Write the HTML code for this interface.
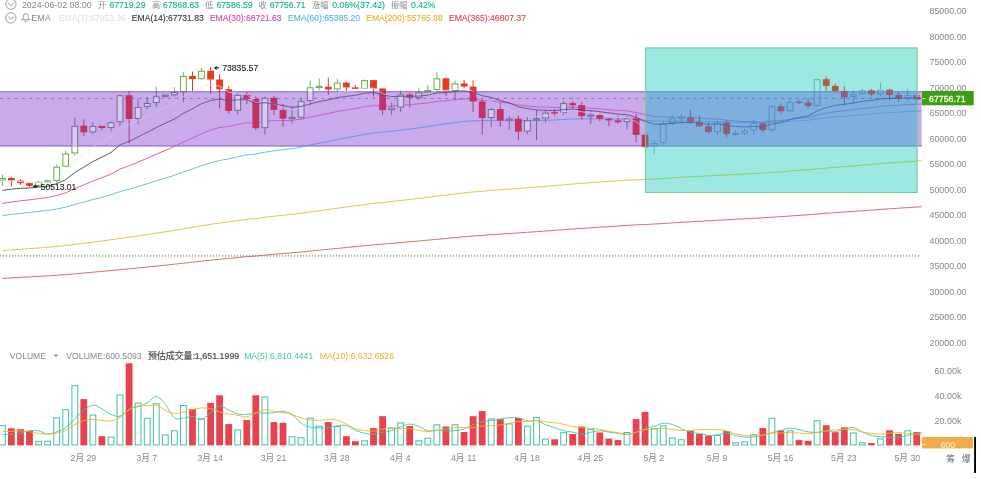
<!DOCTYPE html><html><head><meta charset="utf-8"><title>chart</title><style>html,body{margin:0;padding:0;background:#fff}svg{display:block;filter:blur(.3px)}</style></head><body>
<svg width="981" height="479" viewBox="0 0 981 479" font-family='"Liberation Sans","Noto Sans CJK SC",sans-serif'>
<rect width="981" height="479" fill="#fff"/>
<line x1="0" y1="255.9" x2="921" y2="255.9" stroke="#94b47c" stroke-width="1.6" stroke-dasharray="1.2 1.8"/>
<polyline points="2.4,203.5 11.4,202.0 20.5,200.8 29.5,199.8 38.6,198.7 47.6,197.5 56.7,195.5 65.7,192.8 74.8,188.5 83.8,184.9 92.9,181.1 101.9,177.6 111.0,174.1 120.0,169.0 129.1,165.8 138.1,162.0 147.2,158.2 156.3,154.2 165.3,150.4 174.4,146.6 183.4,142.1 192.5,138.0 201.5,133.7 210.6,130.2 219.6,127.5 228.7,126.5 237.7,124.4 246.8,122.8 255.8,123.1 264.9,121.5 273.9,120.7 283.0,120.6 292.0,120.4 301.1,119.2 310.2,117.1 319.2,115.2 328.3,113.5 337.3,111.5 346.4,109.9 355.4,108.6 364.5,106.7 373.5,105.6 382.6,105.9 391.6,106.0 400.7,105.2 409.7,104.7 418.8,103.9 427.8,103.0 436.9,101.4 445.9,100.8 455.0,99.7 464.1,98.8 473.1,99.0 482.2,100.2 491.2,100.8 500.3,102.1 509.3,103.1 518.4,105.0 527.4,106.0 536.5,106.8 545.5,107.2 554.6,107.5 563.6,107.2 572.7,107.1 581.7,107.7 590.8,108.2 599.8,108.9 608.9,109.6 618.0,110.4 627.0,110.9 636.1,112.5 645.1,114.7 654.2,116.5 663.2,117.0 672.3,117.0 681.3,117.1 690.4,117.4 699.4,118.0 708.5,118.9 717.5,119.1 726.6,120.1 735.6,121.0 744.7,121.6 753.7,121.7 762.8,122.2 771.9,121.2 780.9,120.5 790.0,119.3 799.0,118.3 808.1,117.5 817.1,115.0 826.2,113.1 835.2,111.7 844.3,110.8 853.3,109.7 862.4,108.4 871.4,107.5 880.5,106.4 889.5,105.6 898.6,105.2 907.7,104.5 916.7,104.2 921.5,104.0" fill="none" stroke="#e0409c" stroke-width="0.85" stroke-linejoin="round"/>
<polyline points="2.4,215.5 11.4,214.4 20.5,213.3 29.5,212.4 38.6,211.4 47.6,210.4 56.7,209.0 65.7,207.2 74.8,204.5 83.8,202.1 92.9,199.6 101.9,197.3 111.0,194.8 120.0,191.6 129.1,189.2 138.1,186.5 147.2,183.7 156.3,180.9 165.3,178.1 174.4,175.3 183.4,172.0 192.5,169.0 201.5,165.7 210.6,162.9 219.6,160.5 228.7,158.9 237.7,156.8 246.8,154.9 255.8,154.0 264.9,152.2 273.9,150.8 283.0,149.7 292.0,148.7 301.1,147.1 310.2,145.1 319.2,143.2 328.3,141.5 337.3,139.5 346.4,137.8 355.4,136.2 364.5,134.4 373.5,132.9 382.6,132.1 391.6,131.3 400.7,130.1 409.7,129.1 418.8,127.9 427.8,126.6 436.9,125.0 445.9,123.9 455.0,122.6 464.1,121.4 473.1,120.8 482.2,120.7 491.2,120.3 500.3,120.3 509.3,120.2 518.4,120.6 527.4,120.6 536.5,120.5 545.5,120.3 554.6,120.0 563.6,119.5 572.7,119.0 581.7,118.9 590.8,118.8 599.8,118.8 608.9,118.8 618.0,119.0 627.0,118.9 636.1,119.4 645.1,120.4 654.2,121.1 663.2,121.2 672.3,121.1 681.3,121.0 690.4,121.0 699.4,121.2 708.5,121.5 717.5,121.6 726.6,122.0 735.6,122.4 744.7,122.6 753.7,122.6 762.8,122.9 771.9,122.3 780.9,122.0 790.0,121.3 799.0,120.7 808.1,120.2 817.1,118.9 826.2,117.8 835.2,116.9 844.3,116.3 853.3,115.5 862.4,114.7 871.4,114.0 880.5,113.2 889.5,112.6 898.6,112.2 907.7,111.6 916.7,111.2 921.5,111.0" fill="none" stroke="#48b8dc" stroke-width="0.85" stroke-linejoin="round"/>
<polyline points="2.4,250.6 11.4,249.9 20.5,249.3 29.5,248.6 38.6,248.0 47.6,247.3 56.7,246.5 65.7,245.6 74.8,244.4 83.8,243.3 92.9,242.1 101.9,241.0 111.0,239.8 120.0,238.3 129.1,237.2 138.1,235.9 147.2,234.5 156.3,233.2 165.3,231.8 174.4,230.4 183.4,228.9 192.5,227.4 201.5,225.8 210.6,224.4 219.6,223.0 228.7,221.9 237.7,220.6 246.8,219.4 255.8,218.5 264.9,217.3 273.9,216.2 283.0,215.3 292.0,214.3 301.1,213.2 310.2,211.9 319.2,210.7 328.3,209.5 337.3,208.2 346.4,207.0 355.4,205.8 364.5,204.6 373.5,203.4 382.6,202.5 391.6,201.5 400.7,200.5 409.7,199.5 418.8,198.4 427.8,197.3 436.9,196.1 445.9,195.1 455.0,194.0 464.1,192.9 473.1,192.0 482.2,191.3 491.2,190.4 500.3,189.8 509.3,189.0 518.4,188.5 527.4,187.8 536.5,187.1 545.5,186.4 554.6,185.6 563.6,184.8 572.7,184.0 581.7,183.3 590.8,182.7 599.8,182.0 608.9,181.4 618.0,180.8 627.0,180.2 636.1,179.8 645.1,179.4 654.2,179.1 663.2,178.5 672.3,177.9 681.3,177.3 690.4,176.8 699.4,176.3 708.5,175.8 717.5,175.3 726.6,174.9 735.6,174.5 744.7,174.0 753.7,173.5 762.8,173.1 771.9,172.4 780.9,171.8 790.0,171.1 799.0,170.4 808.1,169.8 817.1,168.9 826.2,168.1 835.2,167.3 844.3,166.6 853.3,165.9 862.4,165.1 871.4,164.4 880.5,163.7 889.5,163.0 898.6,162.4 907.7,161.7 916.7,161.1 921.5,160.7" fill="none" stroke="#dcbc30" stroke-width="0.85" stroke-linejoin="round"/>
<polyline points="2.4,278.5 11.4,277.9 20.5,277.4 29.5,276.9 38.6,276.4 47.6,275.9 56.7,275.3 65.7,274.6 74.8,273.8 83.8,273.0 92.9,272.2 101.9,271.4 111.0,270.6 120.0,269.7 129.1,268.8 138.1,267.9 147.2,267.0 156.3,266.1 165.3,265.2 174.4,264.2 183.4,263.2 192.5,262.2 201.5,261.2 210.6,260.2 219.6,259.2 228.7,258.4 237.7,257.5 246.8,256.7 255.8,256.0 264.9,255.1 273.9,254.3 283.0,253.6 292.0,252.8 301.1,252.0 310.2,251.1 319.2,250.2 328.3,249.3 337.3,248.4 346.4,247.5 355.4,246.6 364.5,245.7 373.5,244.9 382.6,244.1 391.6,243.4 400.7,242.6 409.7,241.8 418.8,241.0 427.8,240.1 436.9,239.3 445.9,238.5 455.0,237.6 464.1,236.8 473.1,236.0 482.2,235.4 491.2,234.7 500.3,234.1 509.3,233.5 518.4,232.9 527.4,232.3 536.5,231.7 545.5,231.0 554.6,230.4 563.6,229.7 572.7,229.0 581.7,228.4 590.8,227.8 599.8,227.2 608.9,226.6 618.0,226.0 627.0,225.4 636.1,224.9 645.1,224.5 654.2,224.0 663.2,223.5 672.3,222.9 681.3,222.3 690.4,221.8 699.4,221.3 708.5,220.8 717.5,220.3 726.6,219.8 735.6,219.3 744.7,218.8 753.7,218.3 762.8,217.8 771.9,217.2 780.9,216.6 790.0,216.0 799.0,215.4 808.1,214.8 817.1,214.0 826.2,213.3 835.2,212.7 844.3,212.0 853.3,211.4 862.4,210.7 871.4,210.1 880.5,209.4 889.5,208.8 898.6,208.2 907.7,207.6 916.7,207.0 921.5,206.7" fill="none" stroke="#dc5058" stroke-width="0.85" stroke-linejoin="round"/>
<defs>
<clipPath id="cpP"><rect x="0" y="91" width="645" height="55.599999999999994"/><rect x="917.5" y="91" width="4.2999999999999545" height="55.599999999999994"/></clipPath>
<clipPath id="cpC"><rect x="645" y="47.5" width="272.5" height="43.5"/><rect x="645" y="146.6" width="272.5" height="46.400000000000006"/></clipPath>
<clipPath id="cpB"><rect x="645" y="91" width="272.5" height="55.599999999999994"/></clipPath>
<clipPath id="cpW"><path clip-rule="evenodd" d="M0 0H921.8V340H0ZM0 91H921.8V146.6H0ZM645 47.5H917.5V91H645ZM645 146.6H917.5V193H645Z"/></clipPath>
<clipPath id="cpAll"><rect x="0" y="0" width="921.8" height="340"/></clipPath>
</defs>
<g clip-path="url(#cpAll)">
<path d="M2.4 174.4V178.0M2.4 180.6V185.9" stroke="#62aa46" stroke-width=".9" fill="none"/>
<rect x="-0.5" y="178.5" width="5.8" height="1.6" fill="none" stroke="#62aa46" stroke-width="1"/>
<path d="M11.4 176.9V186.6" stroke="#e63c1e" stroke-width="1" fill="none"/>
<rect x="8.0" y="178.0" width="6.8" height="2.6" fill="#e63c1e"/>
<path d="M20.5 179.1V184.9" stroke="#e63c1e" stroke-width="1" fill="none"/>
<rect x="17.1" y="180.6" width="6.8" height="2.6" fill="#e63c1e"/>
<path d="M29.5 181.8V187.1" stroke="#e63c1e" stroke-width="1" fill="none"/>
<rect x="26.1" y="183.1" width="6.8" height="2.8" fill="#e63c1e"/>
<path d="M38.6 181.0V181.7M38.6 185.9V186.8" stroke="#62aa46" stroke-width=".9" fill="none"/>
<rect x="35.7" y="182.2" width="5.8" height="3.2" fill="none" stroke="#62aa46" stroke-width="1"/>
<path d="M47.6 179.7V180.2M47.6 182.4V183.2" stroke="#62aa46" stroke-width=".9" fill="none"/>
<rect x="44.7" y="180.7" width="5.8" height="1.2" fill="none" stroke="#62aa46" stroke-width="1"/>
<path d="M56.7 164.5V166.7M56.7 180.9V185.1" stroke="#62aa46" stroke-width=".9" fill="none"/>
<rect x="53.8" y="167.2" width="5.8" height="13.2" fill="none" stroke="#62aa46" stroke-width="1"/>
<path d="M65.7 150.7V153.5M65.7 166.7V166.8" stroke="#62aa46" stroke-width=".9" fill="none"/>
<rect x="62.8" y="154.0" width="5.8" height="12.2" fill="none" stroke="#62aa46" stroke-width="1"/>
<path d="M74.8 117.6V125.7M74.8 153.5V155.3" stroke="#62aa46" stroke-width=".9" fill="none"/>
<rect x="71.9" y="126.2" width="5.8" height="26.8" fill="none" stroke="#62aa46" stroke-width="1"/>
<path d="M83.8 119.3V136.3" stroke="#e63c1e" stroke-width="1" fill="none"/>
<rect x="80.4" y="125.7" width="6.8" height="6.7" fill="#e63c1e"/>
<path d="M92.9 122.2V125.9M92.9 132.4V134.2" stroke="#62aa46" stroke-width=".9" fill="none"/>
<rect x="90.0" y="126.4" width="5.8" height="5.5" fill="none" stroke="#62aa46" stroke-width="1"/>
<path d="M101.9 125.7V130.2" stroke="#e63c1e" stroke-width="1" fill="none"/>
<rect x="98.5" y="125.9" width="6.8" height="2.1" fill="#e63c1e"/>
<path d="M111.0 121.6V122.2M111.0 128.0V131.4" stroke="#62aa46" stroke-width=".9" fill="none"/>
<rect x="108.1" y="122.7" width="5.8" height="4.8" fill="none" stroke="#62aa46" stroke-width="1"/>
<path d="M120.0 94.4V95.2M120.0 122.2V126.4" stroke="#62aa46" stroke-width=".9" fill="none"/>
<rect x="117.1" y="95.7" width="5.8" height="26.0" fill="none" stroke="#62aa46" stroke-width="1"/>
<path d="M129.1 91.0V143.4" stroke="#e63c1e" stroke-width="1" fill="none"/>
<rect x="125.7" y="95.2" width="6.8" height="23.8" fill="#e63c1e"/>
<path d="M138.1 98.8V106.9M138.1 119.0V123.9" stroke="#62aa46" stroke-width=".9" fill="none"/>
<rect x="135.2" y="107.4" width="5.8" height="11.1" fill="none" stroke="#62aa46" stroke-width="1"/>
<path d="M147.2 97.1V103.0M147.2 106.9V109.6" stroke="#62aa46" stroke-width=".9" fill="none"/>
<rect x="144.3" y="103.5" width="5.8" height="2.9" fill="none" stroke="#62aa46" stroke-width="1"/>
<path d="M156.3 86.7V96.3M156.3 103.0V106.9" stroke="#62aa46" stroke-width=".9" fill="none"/>
<rect x="153.4" y="96.8" width="5.8" height="5.7" fill="none" stroke="#62aa46" stroke-width="1"/>
<path d="M165.3 94.2V94.7M165.3 96.9V97.7" stroke="#62aa46" stroke-width=".9" fill="none"/>
<rect x="162.4" y="95.2" width="5.8" height="1.2" fill="none" stroke="#62aa46" stroke-width="1"/>
<path d="M174.4 87.2V92.0M174.4 95.4V96.1" stroke="#62aa46" stroke-width=".9" fill="none"/>
<rect x="171.5" y="92.5" width="5.8" height="2.3" fill="none" stroke="#62aa46" stroke-width="1"/>
<path d="M183.4 72.2V75.9M183.4 92.0V102.0" stroke="#62aa46" stroke-width=".9" fill="none"/>
<rect x="180.5" y="76.4" width="5.8" height="15.1" fill="none" stroke="#62aa46" stroke-width="1"/>
<path d="M192.5 71.6V92.6" stroke="#e63c1e" stroke-width="1" fill="none"/>
<rect x="189.1" y="75.9" width="6.8" height="3.2" fill="#e63c1e"/>
<path d="M201.5 67.8V70.8M201.5 79.2V79.8" stroke="#62aa46" stroke-width=".9" fill="none"/>
<rect x="198.6" y="71.3" width="5.8" height="7.4" fill="none" stroke="#62aa46" stroke-width="1"/>
<path d="M210.6 66.9V94.1" stroke="#e63c1e" stroke-width="1" fill="none"/>
<rect x="207.2" y="70.8" width="6.8" height="8.7" fill="#e63c1e"/>
<path d="M219.6 74.3V108.5" stroke="#e63c1e" stroke-width="1" fill="none"/>
<rect x="216.2" y="79.5" width="6.8" height="9.7" fill="#e63c1e"/>
<path d="M228.7 86.4V113.6" stroke="#e63c1e" stroke-width="1" fill="none"/>
<rect x="225.3" y="89.2" width="6.8" height="21.7" fill="#e63c1e"/>
<path d="M237.7 92.3V94.9M237.7 110.9V114.8" stroke="#62aa46" stroke-width=".9" fill="none"/>
<rect x="234.8" y="95.4" width="5.8" height="14.9" fill="none" stroke="#62aa46" stroke-width="1"/>
<path d="M246.8 92.2V104.2" stroke="#e63c1e" stroke-width="1" fill="none"/>
<rect x="243.4" y="94.9" width="6.8" height="4.0" fill="#e63c1e"/>
<path d="M255.8 96.5V130.2" stroke="#e63c1e" stroke-width="1" fill="none"/>
<rect x="252.4" y="99.0" width="6.8" height="29.2" fill="#e63c1e"/>
<path d="M264.9 96.5V97.8M264.9 128.2V134.2" stroke="#62aa46" stroke-width=".9" fill="none"/>
<rect x="262.0" y="98.3" width="5.8" height="29.4" fill="none" stroke="#62aa46" stroke-width="1"/>
<path d="M273.9 95.7V114.9" stroke="#e63c1e" stroke-width="1" fill="none"/>
<rect x="270.5" y="97.8" width="6.8" height="12.1" fill="#e63c1e"/>
<path d="M283.0 103.9V126.6" stroke="#e63c1e" stroke-width="1" fill="none"/>
<rect x="279.6" y="109.9" width="6.8" height="8.8" fill="#e63c1e"/>
<path d="M292.0 107.3V117.0M292.0 119.2V123.2" stroke="#62aa46" stroke-width=".9" fill="none"/>
<rect x="289.1" y="117.5" width="5.8" height="1.2" fill="none" stroke="#62aa46" stroke-width="1"/>
<path d="M301.1 98.9V101.1M301.1 117.6V118.8" stroke="#62aa46" stroke-width=".9" fill="none"/>
<rect x="298.2" y="101.6" width="5.8" height="15.6" fill="none" stroke="#62aa46" stroke-width="1"/>
<path d="M310.2 80.7V87.3M310.2 101.1V105.3" stroke="#62aa46" stroke-width=".9" fill="none"/>
<rect x="307.3" y="87.8" width="5.8" height="12.8" fill="none" stroke="#62aa46" stroke-width="1"/>
<path d="M319.2 78.6V85.9M319.2 88.1V90.4" stroke="#62aa46" stroke-width=".9" fill="none"/>
<rect x="316.3" y="86.4" width="5.8" height="1.2" fill="none" stroke="#62aa46" stroke-width="1"/>
<path d="M328.3 77.5V95.1" stroke="#e63c1e" stroke-width="1" fill="none"/>
<rect x="324.9" y="86.7" width="6.8" height="2.7" fill="#e63c1e"/>
<path d="M337.3 78.7V82.6M337.3 89.4V92.3" stroke="#62aa46" stroke-width=".9" fill="none"/>
<rect x="334.4" y="83.1" width="5.8" height="5.8" fill="none" stroke="#62aa46" stroke-width="1"/>
<path d="M346.4 81.9V91.8" stroke="#e63c1e" stroke-width="1" fill="none"/>
<rect x="343.0" y="82.6" width="6.8" height="4.8" fill="#e63c1e"/>
<path d="M355.4 85.0V89.0" stroke="#e63c1e" stroke-width="1" fill="none"/>
<rect x="352.0" y="87.4" width="6.8" height="1.4" fill="#e63c1e"/>
<path d="M364.5 79.6V80.1M364.5 88.8V88.9" stroke="#62aa46" stroke-width=".9" fill="none"/>
<rect x="361.6" y="80.6" width="5.8" height="7.8" fill="none" stroke="#62aa46" stroke-width="1"/>
<path d="M373.5 80.0V96.7" stroke="#e63c1e" stroke-width="1" fill="none"/>
<rect x="370.1" y="80.1" width="6.8" height="8.4" fill="#e63c1e"/>
<path d="M382.6 88.3V114.8" stroke="#e63c1e" stroke-width="1" fill="none"/>
<rect x="379.2" y="88.5" width="6.8" height="21.6" fill="#e63c1e"/>
<path d="M391.6 102.6V107.5M391.6 110.1V115.1" stroke="#62aa46" stroke-width=".9" fill="none"/>
<rect x="388.7" y="108.0" width="5.8" height="1.6" fill="none" stroke="#62aa46" stroke-width="1"/>
<path d="M400.7 90.2V94.5M400.7 107.5V112.1" stroke="#62aa46" stroke-width=".9" fill="none"/>
<rect x="397.8" y="95.0" width="5.8" height="12.0" fill="none" stroke="#62aa46" stroke-width="1"/>
<path d="M409.7 93.1V107.5" stroke="#e63c1e" stroke-width="1" fill="none"/>
<rect x="406.3" y="94.5" width="6.8" height="3.4" fill="#e63c1e"/>
<path d="M418.8 88.2V92.4M418.8 97.9V99.8" stroke="#62aa46" stroke-width=".9" fill="none"/>
<rect x="415.9" y="92.9" width="5.8" height="4.5" fill="none" stroke="#62aa46" stroke-width="1"/>
<path d="M427.8 85.0V90.0M427.8 92.4V92.7" stroke="#62aa46" stroke-width=".9" fill="none"/>
<rect x="424.9" y="90.5" width="5.8" height="1.4" fill="none" stroke="#62aa46" stroke-width="1"/>
<path d="M436.9 72.2V78.3M436.9 90.0V91.6" stroke="#62aa46" stroke-width=".9" fill="none"/>
<rect x="434.0" y="78.8" width="5.8" height="10.7" fill="none" stroke="#62aa46" stroke-width="1"/>
<path d="M445.9 77.6V95.9" stroke="#e63c1e" stroke-width="1" fill="none"/>
<rect x="442.5" y="78.3" width="6.8" height="12.8" fill="#e63c1e"/>
<path d="M455.0 80.6V83.4M455.0 91.1V99.5" stroke="#62aa46" stroke-width=".9" fill="none"/>
<rect x="452.1" y="83.9" width="5.8" height="6.7" fill="none" stroke="#62aa46" stroke-width="1"/>
<path d="M464.1 79.9V88.9" stroke="#e63c1e" stroke-width="1" fill="none"/>
<rect x="460.7" y="83.4" width="6.8" height="3.2" fill="#e63c1e"/>
<path d="M473.1 80.3V112.0" stroke="#e63c1e" stroke-width="1" fill="none"/>
<rect x="469.7" y="86.6" width="6.8" height="14.9" fill="#e63c1e"/>
<path d="M482.2 97.3V134.8" stroke="#e63c1e" stroke-width="1" fill="none"/>
<rect x="478.8" y="101.5" width="6.8" height="16.5" fill="#e63c1e"/>
<path d="M491.2 108.1V109.0M491.2 118.0V127.2" stroke="#62aa46" stroke-width=".9" fill="none"/>
<rect x="488.3" y="109.5" width="5.8" height="8.0" fill="none" stroke="#62aa46" stroke-width="1"/>
<path d="M500.3 102.8V126.5" stroke="#e63c1e" stroke-width="1" fill="none"/>
<rect x="496.9" y="109.0" width="6.8" height="11.6" fill="#e63c1e"/>
<path d="M509.3 115.7V118.5M509.3 120.7V130.0" stroke="#62aa46" stroke-width=".9" fill="none"/>
<rect x="506.4" y="119.0" width="5.8" height="1.2" fill="none" stroke="#62aa46" stroke-width="1"/>
<path d="M518.4 115.0V139.9" stroke="#e63c1e" stroke-width="1" fill="none"/>
<rect x="515.0" y="118.7" width="6.8" height="13.0" fill="#e63c1e"/>
<path d="M527.4 117.0V120.3M527.4 131.6V134.1" stroke="#62aa46" stroke-width=".9" fill="none"/>
<rect x="524.5" y="120.8" width="5.8" height="10.3" fill="none" stroke="#62aa46" stroke-width="1"/>
<path d="M536.5 110.1V118.3M536.5 120.5V140.3" stroke="#62aa46" stroke-width=".9" fill="none"/>
<rect x="533.6" y="118.8" width="5.8" height="1.2" fill="none" stroke="#62aa46" stroke-width="1"/>
<path d="M545.5 110.3V112.7M545.5 118.5V122.3" stroke="#62aa46" stroke-width=".9" fill="none"/>
<rect x="542.6" y="113.2" width="5.8" height="4.8" fill="none" stroke="#62aa46" stroke-width="1"/>
<path d="M554.6 108.9V116.4" stroke="#e63c1e" stroke-width="1" fill="none"/>
<rect x="551.2" y="112.2" width="6.8" height="1.4" fill="#e63c1e"/>
<path d="M563.6 100.9V103.1M563.6 113.0V115.0" stroke="#62aa46" stroke-width=".9" fill="none"/>
<rect x="560.7" y="103.6" width="5.8" height="8.9" fill="none" stroke="#62aa46" stroke-width="1"/>
<path d="M572.7 101.2V108.5" stroke="#e63c1e" stroke-width="1" fill="none"/>
<rect x="569.3" y="103.1" width="6.8" height="2.1" fill="#e63c1e"/>
<path d="M581.7 101.8V119.6" stroke="#e63c1e" stroke-width="1" fill="none"/>
<rect x="578.3" y="105.1" width="6.8" height="11.0" fill="#e63c1e"/>
<path d="M590.8 110.9V114.5M590.8 116.7V123.8" stroke="#62aa46" stroke-width=".9" fill="none"/>
<rect x="587.9" y="115.0" width="5.8" height="1.2" fill="none" stroke="#62aa46" stroke-width="1"/>
<path d="M599.8 113.4V121.2" stroke="#e63c1e" stroke-width="1" fill="none"/>
<rect x="596.4" y="115.0" width="6.8" height="3.8" fill="#e63c1e"/>
<path d="M608.9 118.0V125.9" stroke="#e63c1e" stroke-width="1" fill="none"/>
<rect x="605.5" y="118.8" width="6.8" height="1.6" fill="#e63c1e"/>
<path d="M618.0 115.7V123.9" stroke="#e63c1e" stroke-width="1" fill="none"/>
<rect x="614.6" y="120.4" width="6.8" height="1.8" fill="#e63c1e"/>
<path d="M627.0 116.4V118.3M627.0 122.1V129.1" stroke="#62aa46" stroke-width=".9" fill="none"/>
<rect x="624.1" y="118.8" width="5.8" height="2.9" fill="none" stroke="#62aa46" stroke-width="1"/>
<path d="M636.1 113.8V142.4" stroke="#e63c1e" stroke-width="1" fill="none"/>
<rect x="632.7" y="118.3" width="6.8" height="16.5" fill="#e63c1e"/>
<path d="M645.1 133.9V147.2" stroke="#e63c1e" stroke-width="1" fill="none"/>
<rect x="641.7" y="134.8" width="6.8" height="12.5" fill="#e63c1e"/>
<path d="M654.2 140.3V143.1M654.2 146.7V154.1" stroke="#62aa46" stroke-width=".9" fill="none"/>
<rect x="651.3" y="143.6" width="5.8" height="2.6" fill="none" stroke="#62aa46" stroke-width="1"/>
<path d="M663.2 121.0V123.4M663.2 143.1V144.4" stroke="#62aa46" stroke-width=".9" fill="none"/>
<rect x="660.3" y="123.9" width="5.8" height="18.7" fill="none" stroke="#62aa46" stroke-width="1"/>
<path d="M672.3 114.8V118.2M672.3 123.4V125.1" stroke="#62aa46" stroke-width=".9" fill="none"/>
<rect x="669.4" y="118.7" width="5.8" height="4.2" fill="none" stroke="#62aa46" stroke-width="1"/>
<path d="M681.3 114.3V116.7M681.3 118.9V123.7" stroke="#62aa46" stroke-width=".9" fill="none"/>
<rect x="678.4" y="117.2" width="5.8" height="1.2" fill="none" stroke="#62aa46" stroke-width="1"/>
<path d="M690.4 109.9V124.3" stroke="#e63c1e" stroke-width="1" fill="none"/>
<rect x="687.0" y="117.5" width="6.8" height="4.4" fill="#e63c1e"/>
<path d="M699.4 115.4V126.6" stroke="#e63c1e" stroke-width="1" fill="none"/>
<rect x="696.0" y="121.9" width="6.8" height="4.4" fill="#e63c1e"/>
<path d="M708.5 122.6V133.6" stroke="#e63c1e" stroke-width="1" fill="none"/>
<rect x="705.1" y="126.3" width="6.8" height="5.8" fill="#e63c1e"/>
<path d="M717.5 120.5V122.4M717.5 132.1V135.0" stroke="#62aa46" stroke-width=".9" fill="none"/>
<rect x="714.6" y="122.9" width="5.8" height="8.7" fill="none" stroke="#62aa46" stroke-width="1"/>
<path d="M726.6 120.3V137.3" stroke="#e63c1e" stroke-width="1" fill="none"/>
<rect x="723.2" y="122.4" width="6.8" height="11.7" fill="#e63c1e"/>
<path d="M735.6 130.4V132.9M735.6 135.1V135.7" stroke="#62aa46" stroke-width=".9" fill="none"/>
<rect x="732.7" y="133.4" width="5.8" height="1.2" fill="none" stroke="#62aa46" stroke-width="1"/>
<path d="M744.7 128.5V130.6M744.7 134.0V135.1" stroke="#62aa46" stroke-width=".9" fill="none"/>
<rect x="741.8" y="131.1" width="5.8" height="2.4" fill="none" stroke="#62aa46" stroke-width="1"/>
<path d="M753.7 120.4V123.1M753.7 130.6V134.4" stroke="#62aa46" stroke-width=".9" fill="none"/>
<rect x="750.8" y="123.6" width="5.8" height="6.5" fill="none" stroke="#62aa46" stroke-width="1"/>
<path d="M762.8 122.1V132.3" stroke="#e63c1e" stroke-width="1" fill="none"/>
<rect x="759.4" y="123.1" width="6.8" height="7.0" fill="#e63c1e"/>
<path d="M771.9 105.0V106.2M771.9 130.1V131.4" stroke="#62aa46" stroke-width=".9" fill="none"/>
<rect x="769.0" y="106.7" width="5.8" height="22.9" fill="none" stroke="#62aa46" stroke-width="1"/>
<path d="M780.9 103.4V114.5" stroke="#e63c1e" stroke-width="1" fill="none"/>
<rect x="777.5" y="106.2" width="6.8" height="5.0" fill="#e63c1e"/>
<path d="M790.0 99.8V102.0M790.0 111.2V111.9" stroke="#62aa46" stroke-width=".9" fill="none"/>
<rect x="787.1" y="102.5" width="5.8" height="8.2" fill="none" stroke="#62aa46" stroke-width="1"/>
<path d="M799.0 100.1V104.2" stroke="#e63c1e" stroke-width="1" fill="none"/>
<rect x="795.6" y="101.6" width="6.8" height="1.4" fill="#e63c1e"/>
<path d="M808.1 98.5V108.0" stroke="#e63c1e" stroke-width="1" fill="none"/>
<rect x="804.7" y="102.6" width="6.8" height="3.3" fill="#e63c1e"/>
<path d="M817.1 78.8V79.2M817.1 105.9V107.0" stroke="#62aa46" stroke-width=".9" fill="none"/>
<rect x="814.2" y="79.7" width="5.8" height="25.7" fill="none" stroke="#62aa46" stroke-width="1"/>
<path d="M826.2 76.5V91.0" stroke="#e63c1e" stroke-width="1" fill="none"/>
<rect x="822.8" y="79.2" width="6.8" height="6.7" fill="#e63c1e"/>
<path d="M835.2 83.2V92.6" stroke="#e63c1e" stroke-width="1" fill="none"/>
<rect x="831.8" y="85.9" width="6.8" height="5.1" fill="#e63c1e"/>
<path d="M844.3 86.2V105.7" stroke="#e63c1e" stroke-width="1" fill="none"/>
<rect x="840.9" y="91.0" width="6.8" height="6.2" fill="#e63c1e"/>
<path d="M853.3 90.5V94.1M853.3 97.1V104.2" stroke="#62aa46" stroke-width=".9" fill="none"/>
<rect x="850.4" y="94.6" width="5.8" height="2.0" fill="none" stroke="#62aa46" stroke-width="1"/>
<path d="M862.4 88.7V90.3M862.4 94.1V94.4" stroke="#62aa46" stroke-width=".9" fill="none"/>
<rect x="859.5" y="90.8" width="5.8" height="2.8" fill="none" stroke="#62aa46" stroke-width="1"/>
<path d="M871.4 88.9V96.3" stroke="#e63c1e" stroke-width="1" fill="none"/>
<rect x="868.0" y="90.3" width="6.8" height="4.0" fill="#e63c1e"/>
<path d="M880.5 83.1V89.6M880.5 94.4V95.7" stroke="#62aa46" stroke-width=".9" fill="none"/>
<rect x="877.6" y="90.1" width="5.8" height="3.8" fill="none" stroke="#62aa46" stroke-width="1"/>
<path d="M889.5 88.8V100.7" stroke="#e63c1e" stroke-width="1" fill="none"/>
<rect x="886.1" y="89.6" width="6.8" height="5.4" fill="#e63c1e"/>
<path d="M898.6 92.2V101.5" stroke="#e63c1e" stroke-width="1" fill="none"/>
<rect x="895.2" y="94.9" width="6.8" height="3.8" fill="#e63c1e"/>
<path d="M907.7 89.2V95.2M907.7 98.8V101.5" stroke="#62aa46" stroke-width=".9" fill="none"/>
<rect x="904.8" y="95.7" width="5.8" height="2.6" fill="none" stroke="#62aa46" stroke-width="1"/>
<path d="M916.7 91.7V103.8" stroke="#e63c1e" stroke-width="1" fill="none"/>
<rect x="913.3" y="95.2" width="6.8" height="4.2" fill="#e63c1e"/>
<rect x="-2" y="91" width="923.8" height="55.599999999999994" fill="#c9abec"/>
<rect x="645" y="47.5" width="272.5" height="145.5" fill="#9ee8e2"/>
<rect x="645" y="91" width="272.5" height="55.599999999999994" fill="#7eb0dd"/>
</g>
<path d="M0 91.75H645M917.5 91.75H921.8" stroke="#a286d2" stroke-width="1.5" fill="none"/>
<path d="M645 91.75H917.5" stroke="#6f9fd0" stroke-width="1.5" fill="none"/>
<path d="M0 145.85H645M917.5 145.85H921.8" stroke="#a286d2" stroke-width="1.5" fill="none"/>
<path d="M645 145.85H917.5" stroke="#6f9fd0" stroke-width="1.5" fill="none"/>
<g clip-path="url(#cpP)">
<polyline points="2.4,203.5 11.4,202.0 20.5,200.8 29.5,199.8 38.6,198.7 47.6,197.5 56.7,195.5 65.7,192.8 74.8,188.5 83.8,184.9 92.9,181.1 101.9,177.6 111.0,174.1 120.0,169.0 129.1,165.8 138.1,162.0 147.2,158.2 156.3,154.2 165.3,150.4 174.4,146.6 183.4,142.1 192.5,138.0 201.5,133.7 210.6,130.2 219.6,127.5 228.7,126.5 237.7,124.4 246.8,122.8 255.8,123.1 264.9,121.5 273.9,120.7 283.0,120.6 292.0,120.4 301.1,119.2 310.2,117.1 319.2,115.2 328.3,113.5 337.3,111.5 346.4,109.9 355.4,108.6 364.5,106.7 373.5,105.6 382.6,105.9 391.6,106.0 400.7,105.2 409.7,104.7 418.8,103.9 427.8,103.0 436.9,101.4 445.9,100.8 455.0,99.7 464.1,98.8 473.1,99.0 482.2,100.2 491.2,100.8 500.3,102.1 509.3,103.1 518.4,105.0 527.4,106.0 536.5,106.8 545.5,107.2 554.6,107.5 563.6,107.2 572.7,107.1 581.7,107.7 590.8,108.2 599.8,108.9 608.9,109.6 618.0,110.4 627.0,110.9 636.1,112.5 645.1,114.7 654.2,116.5 663.2,117.0 672.3,117.0 681.3,117.1 690.4,117.4 699.4,118.0 708.5,118.9 717.5,119.1 726.6,120.1 735.6,121.0 744.7,121.6 753.7,121.7 762.8,122.2 771.9,121.2 780.9,120.5 790.0,119.3 799.0,118.3 808.1,117.5 817.1,115.0 826.2,113.1 835.2,111.7 844.3,110.8 853.3,109.7 862.4,108.4 871.4,107.5 880.5,106.4 889.5,105.6 898.6,105.2 907.7,104.5 916.7,104.2 921.5,104.0" fill="none" stroke="#c850c0" stroke-width="0.85" stroke-linejoin="round"/>
<polyline points="2.4,215.5 11.4,214.4 20.5,213.3 29.5,212.4 38.6,211.4 47.6,210.4 56.7,209.0 65.7,207.2 74.8,204.5 83.8,202.1 92.9,199.6 101.9,197.3 111.0,194.8 120.0,191.6 129.1,189.2 138.1,186.5 147.2,183.7 156.3,180.9 165.3,178.1 174.4,175.3 183.4,172.0 192.5,169.0 201.5,165.7 210.6,162.9 219.6,160.5 228.7,158.9 237.7,156.8 246.8,154.9 255.8,154.0 264.9,152.2 273.9,150.8 283.0,149.7 292.0,148.7 301.1,147.1 310.2,145.1 319.2,143.2 328.3,141.5 337.3,139.5 346.4,137.8 355.4,136.2 364.5,134.4 373.5,132.9 382.6,132.1 391.6,131.3 400.7,130.1 409.7,129.1 418.8,127.9 427.8,126.6 436.9,125.0 445.9,123.9 455.0,122.6 464.1,121.4 473.1,120.8 482.2,120.7 491.2,120.3 500.3,120.3 509.3,120.2 518.4,120.6 527.4,120.6 536.5,120.5 545.5,120.3 554.6,120.0 563.6,119.5 572.7,119.0 581.7,118.9 590.8,118.8 599.8,118.8 608.9,118.8 618.0,119.0 627.0,118.9 636.1,119.4 645.1,120.4 654.2,121.1 663.2,121.2 672.3,121.1 681.3,121.0 690.4,121.0 699.4,121.2 708.5,121.5 717.5,121.6 726.6,122.0 735.6,122.4 744.7,122.6 753.7,122.6 762.8,122.9 771.9,122.3 780.9,122.0 790.0,121.3 799.0,120.7 808.1,120.2 817.1,118.9 826.2,117.8 835.2,116.9 844.3,116.3 853.3,115.5 862.4,114.7 871.4,114.0 880.5,113.2 889.5,112.6 898.6,112.2 907.7,111.6 916.7,111.2 921.5,111.0" fill="none" stroke="#5a8ee0" stroke-width="0.85" stroke-linejoin="round"/>
<polyline points="2.4,250.6 11.4,249.9 20.5,249.3 29.5,248.6 38.6,248.0 47.6,247.3 56.7,246.5 65.7,245.6 74.8,244.4 83.8,243.3 92.9,242.1 101.9,241.0 111.0,239.8 120.0,238.3 129.1,237.2 138.1,235.9 147.2,234.5 156.3,233.2 165.3,231.8 174.4,230.4 183.4,228.9 192.5,227.4 201.5,225.8 210.6,224.4 219.6,223.0 228.7,221.9 237.7,220.6 246.8,219.4 255.8,218.5 264.9,217.3 273.9,216.2 283.0,215.3 292.0,214.3 301.1,213.2 310.2,211.9 319.2,210.7 328.3,209.5 337.3,208.2 346.4,207.0 355.4,205.8 364.5,204.6 373.5,203.4 382.6,202.5 391.6,201.5 400.7,200.5 409.7,199.5 418.8,198.4 427.8,197.3 436.9,196.1 445.9,195.1 455.0,194.0 464.1,192.9 473.1,192.0 482.2,191.3 491.2,190.4 500.3,189.8 509.3,189.0 518.4,188.5 527.4,187.8 536.5,187.1 545.5,186.4 554.6,185.6 563.6,184.8 572.7,184.0 581.7,183.3 590.8,182.7 599.8,182.0 608.9,181.4 618.0,180.8 627.0,180.2 636.1,179.8 645.1,179.4 654.2,179.1 663.2,178.5 672.3,177.9 681.3,177.3 690.4,176.8 699.4,176.3 708.5,175.8 717.5,175.3 726.6,174.9 735.6,174.5 744.7,174.0 753.7,173.5 762.8,173.1 771.9,172.4 780.9,171.8 790.0,171.1 799.0,170.4 808.1,169.8 817.1,168.9 826.2,168.1 835.2,167.3 844.3,166.6 853.3,165.9 862.4,165.1 871.4,164.4 880.5,163.7 889.5,163.0 898.6,162.4 907.7,161.7 916.7,161.1 921.5,160.7" fill="none" stroke="#c8b070" stroke-width="0.85" stroke-linejoin="round"/>
</g>
<g clip-path="url(#cpC)">
<polyline points="2.4,215.5 11.4,214.4 20.5,213.3 29.5,212.4 38.6,211.4 47.6,210.4 56.7,209.0 65.7,207.2 74.8,204.5 83.8,202.1 92.9,199.6 101.9,197.3 111.0,194.8 120.0,191.6 129.1,189.2 138.1,186.5 147.2,183.7 156.3,180.9 165.3,178.1 174.4,175.3 183.4,172.0 192.5,169.0 201.5,165.7 210.6,162.9 219.6,160.5 228.7,158.9 237.7,156.8 246.8,154.9 255.8,154.0 264.9,152.2 273.9,150.8 283.0,149.7 292.0,148.7 301.1,147.1 310.2,145.1 319.2,143.2 328.3,141.5 337.3,139.5 346.4,137.8 355.4,136.2 364.5,134.4 373.5,132.9 382.6,132.1 391.6,131.3 400.7,130.1 409.7,129.1 418.8,127.9 427.8,126.6 436.9,125.0 445.9,123.9 455.0,122.6 464.1,121.4 473.1,120.8 482.2,120.7 491.2,120.3 500.3,120.3 509.3,120.2 518.4,120.6 527.4,120.6 536.5,120.5 545.5,120.3 554.6,120.0 563.6,119.5 572.7,119.0 581.7,118.9 590.8,118.8 599.8,118.8 608.9,118.8 618.0,119.0 627.0,118.9 636.1,119.4 645.1,120.4 654.2,121.1 663.2,121.2 672.3,121.1 681.3,121.0 690.4,121.0 699.4,121.2 708.5,121.5 717.5,121.6 726.6,122.0 735.6,122.4 744.7,122.6 753.7,122.6 762.8,122.9 771.9,122.3 780.9,122.0 790.0,121.3 799.0,120.7 808.1,120.2 817.1,118.9 826.2,117.8 835.2,116.9 844.3,116.3 853.3,115.5 862.4,114.7 871.4,114.0 880.5,113.2 889.5,112.6 898.6,112.2 907.7,111.6 916.7,111.2 921.5,111.0" fill="none" stroke="#70c0d0" stroke-width="0.85" stroke-linejoin="round"/>
<polyline points="2.4,250.6 11.4,249.9 20.5,249.3 29.5,248.6 38.6,248.0 47.6,247.3 56.7,246.5 65.7,245.6 74.8,244.4 83.8,243.3 92.9,242.1 101.9,241.0 111.0,239.8 120.0,238.3 129.1,237.2 138.1,235.9 147.2,234.5 156.3,233.2 165.3,231.8 174.4,230.4 183.4,228.9 192.5,227.4 201.5,225.8 210.6,224.4 219.6,223.0 228.7,221.9 237.7,220.6 246.8,219.4 255.8,218.5 264.9,217.3 273.9,216.2 283.0,215.3 292.0,214.3 301.1,213.2 310.2,211.9 319.2,210.7 328.3,209.5 337.3,208.2 346.4,207.0 355.4,205.8 364.5,204.6 373.5,203.4 382.6,202.5 391.6,201.5 400.7,200.5 409.7,199.5 418.8,198.4 427.8,197.3 436.9,196.1 445.9,195.1 455.0,194.0 464.1,192.9 473.1,192.0 482.2,191.3 491.2,190.4 500.3,189.8 509.3,189.0 518.4,188.5 527.4,187.8 536.5,187.1 545.5,186.4 554.6,185.6 563.6,184.8 572.7,184.0 581.7,183.3 590.8,182.7 599.8,182.0 608.9,181.4 618.0,180.8 627.0,180.2 636.1,179.8 645.1,179.4 654.2,179.1 663.2,178.5 672.3,177.9 681.3,177.3 690.4,176.8 699.4,176.3 708.5,175.8 717.5,175.3 726.6,174.9 735.6,174.5 744.7,174.0 753.7,173.5 762.8,173.1 771.9,172.4 780.9,171.8 790.0,171.1 799.0,170.4 808.1,169.8 817.1,168.9 826.2,168.1 835.2,167.3 844.3,166.6 853.3,165.9 862.4,165.1 871.4,164.4 880.5,163.7 889.5,163.0 898.6,162.4 907.7,161.7 916.7,161.1 921.5,160.7" fill="none" stroke="#8cc850" stroke-width="0.85" stroke-linejoin="round"/>
</g>
<g clip-path="url(#cpB)">
<polyline points="2.4,203.5 11.4,202.0 20.5,200.8 29.5,199.8 38.6,198.7 47.6,197.5 56.7,195.5 65.7,192.8 74.8,188.5 83.8,184.9 92.9,181.1 101.9,177.6 111.0,174.1 120.0,169.0 129.1,165.8 138.1,162.0 147.2,158.2 156.3,154.2 165.3,150.4 174.4,146.6 183.4,142.1 192.5,138.0 201.5,133.7 210.6,130.2 219.6,127.5 228.7,126.5 237.7,124.4 246.8,122.8 255.8,123.1 264.9,121.5 273.9,120.7 283.0,120.6 292.0,120.4 301.1,119.2 310.2,117.1 319.2,115.2 328.3,113.5 337.3,111.5 346.4,109.9 355.4,108.6 364.5,106.7 373.5,105.6 382.6,105.9 391.6,106.0 400.7,105.2 409.7,104.7 418.8,103.9 427.8,103.0 436.9,101.4 445.9,100.8 455.0,99.7 464.1,98.8 473.1,99.0 482.2,100.2 491.2,100.8 500.3,102.1 509.3,103.1 518.4,105.0 527.4,106.0 536.5,106.8 545.5,107.2 554.6,107.5 563.6,107.2 572.7,107.1 581.7,107.7 590.8,108.2 599.8,108.9 608.9,109.6 618.0,110.4 627.0,110.9 636.1,112.5 645.1,114.7 654.2,116.5 663.2,117.0 672.3,117.0 681.3,117.1 690.4,117.4 699.4,118.0 708.5,118.9 717.5,119.1 726.6,120.1 735.6,121.0 744.7,121.6 753.7,121.7 762.8,122.2 771.9,121.2 780.9,120.5 790.0,119.3 799.0,118.3 808.1,117.5 817.1,115.0 826.2,113.1 835.2,111.7 844.3,110.8 853.3,109.7 862.4,108.4 871.4,107.5 880.5,106.4 889.5,105.6 898.6,105.2 907.7,104.5 916.7,104.2 921.5,104.0" fill="none" stroke="#6e7ccc" stroke-width="0.85" stroke-linejoin="round"/>
<polyline points="2.4,215.5 11.4,214.4 20.5,213.3 29.5,212.4 38.6,211.4 47.6,210.4 56.7,209.0 65.7,207.2 74.8,204.5 83.8,202.1 92.9,199.6 101.9,197.3 111.0,194.8 120.0,191.6 129.1,189.2 138.1,186.5 147.2,183.7 156.3,180.9 165.3,178.1 174.4,175.3 183.4,172.0 192.5,169.0 201.5,165.7 210.6,162.9 219.6,160.5 228.7,158.9 237.7,156.8 246.8,154.9 255.8,154.0 264.9,152.2 273.9,150.8 283.0,149.7 292.0,148.7 301.1,147.1 310.2,145.1 319.2,143.2 328.3,141.5 337.3,139.5 346.4,137.8 355.4,136.2 364.5,134.4 373.5,132.9 382.6,132.1 391.6,131.3 400.7,130.1 409.7,129.1 418.8,127.9 427.8,126.6 436.9,125.0 445.9,123.9 455.0,122.6 464.1,121.4 473.1,120.8 482.2,120.7 491.2,120.3 500.3,120.3 509.3,120.2 518.4,120.6 527.4,120.6 536.5,120.5 545.5,120.3 554.6,120.0 563.6,119.5 572.7,119.0 581.7,118.9 590.8,118.8 599.8,118.8 608.9,118.8 618.0,119.0 627.0,118.9 636.1,119.4 645.1,120.4 654.2,121.1 663.2,121.2 672.3,121.1 681.3,121.0 690.4,121.0 699.4,121.2 708.5,121.5 717.5,121.6 726.6,122.0 735.6,122.4 744.7,122.6 753.7,122.6 762.8,122.9 771.9,122.3 780.9,122.0 790.0,121.3 799.0,120.7 808.1,120.2 817.1,118.9 826.2,117.8 835.2,116.9 844.3,116.3 853.3,115.5 862.4,114.7 871.4,114.0 880.5,113.2 889.5,112.6 898.6,112.2 907.7,111.6 916.7,111.2 921.5,111.0" fill="none" stroke="#5a98d4" stroke-width="0.85" stroke-linejoin="round"/>
</g>
<line x1="0" y1="98.45" x2="921.8" y2="98.45" stroke="#5a5470" stroke-opacity=".55" stroke-width="1" stroke-dasharray="3 4.3"/>
<g clip-path="url(#cpP)"><path d="M2.4 174.4V178.0M2.4 180.6V185.9" stroke="#6a5e96" stroke-width=".9" fill="none"/>
<rect x="-0.5" y="178.5" width="5.8" height="1.6" fill="#d8c8f3" stroke="#746a98" stroke-width="1"/>
<path d="M11.4 176.9V186.6" stroke="#a8408c" stroke-width="1" fill="none"/>
<rect x="8.0" y="178.0" width="6.8" height="2.6" fill="#c43264"/>
<path d="M20.5 179.1V184.9" stroke="#a8408c" stroke-width="1" fill="none"/>
<rect x="17.1" y="180.6" width="6.8" height="2.6" fill="#c43264"/>
<path d="M29.5 181.8V187.1" stroke="#a8408c" stroke-width="1" fill="none"/>
<rect x="26.1" y="183.1" width="6.8" height="2.8" fill="#c43264"/>
<path d="M38.6 181.0V181.7M38.6 185.9V186.8" stroke="#6a5e96" stroke-width=".9" fill="none"/>
<rect x="35.7" y="182.2" width="5.8" height="3.2" fill="#d8c8f3" stroke="#746a98" stroke-width="1"/>
<path d="M47.6 179.7V180.2M47.6 182.4V183.2" stroke="#6a5e96" stroke-width=".9" fill="none"/>
<rect x="44.7" y="180.7" width="5.8" height="1.2" fill="#d8c8f3" stroke="#746a98" stroke-width="1"/>
<path d="M56.7 164.5V166.7M56.7 180.9V185.1" stroke="#6a5e96" stroke-width=".9" fill="none"/>
<rect x="53.8" y="167.2" width="5.8" height="13.2" fill="#d8c8f3" stroke="#746a98" stroke-width="1"/>
<path d="M65.7 150.7V153.5M65.7 166.7V166.8" stroke="#6a5e96" stroke-width=".9" fill="none"/>
<rect x="62.8" y="154.0" width="5.8" height="12.2" fill="#d8c8f3" stroke="#746a98" stroke-width="1"/>
<path d="M74.8 117.6V125.7M74.8 153.5V155.3" stroke="#6a5e96" stroke-width=".9" fill="none"/>
<rect x="71.9" y="126.2" width="5.8" height="26.8" fill="#d8c8f3" stroke="#746a98" stroke-width="1"/>
<path d="M83.8 119.3V136.3" stroke="#a8408c" stroke-width="1" fill="none"/>
<rect x="80.4" y="125.7" width="6.8" height="6.7" fill="#c43264"/>
<path d="M92.9 122.2V125.9M92.9 132.4V134.2" stroke="#6a5e96" stroke-width=".9" fill="none"/>
<rect x="90.0" y="126.4" width="5.8" height="5.5" fill="#d8c8f3" stroke="#746a98" stroke-width="1"/>
<path d="M101.9 125.7V130.2" stroke="#a8408c" stroke-width="1" fill="none"/>
<rect x="98.5" y="125.9" width="6.8" height="2.1" fill="#c43264"/>
<path d="M111.0 121.6V122.2M111.0 128.0V131.4" stroke="#6a5e96" stroke-width=".9" fill="none"/>
<rect x="108.1" y="122.7" width="5.8" height="4.8" fill="#d8c8f3" stroke="#746a98" stroke-width="1"/>
<path d="M120.0 94.4V95.2M120.0 122.2V126.4" stroke="#6a5e96" stroke-width=".9" fill="none"/>
<rect x="117.1" y="95.7" width="5.8" height="26.0" fill="#d8c8f3" stroke="#746a98" stroke-width="1"/>
<path d="M129.1 91.0V143.4" stroke="#a8408c" stroke-width="1" fill="none"/>
<rect x="125.7" y="95.2" width="6.8" height="23.8" fill="#c43264"/>
<path d="M138.1 98.8V106.9M138.1 119.0V123.9" stroke="#6a5e96" stroke-width=".9" fill="none"/>
<rect x="135.2" y="107.4" width="5.8" height="11.1" fill="#d8c8f3" stroke="#746a98" stroke-width="1"/>
<path d="M147.2 97.1V103.0M147.2 106.9V109.6" stroke="#6a5e96" stroke-width=".9" fill="none"/>
<rect x="144.3" y="103.5" width="5.8" height="2.9" fill="#d8c8f3" stroke="#746a98" stroke-width="1"/>
<path d="M156.3 86.7V96.3M156.3 103.0V106.9" stroke="#6a5e96" stroke-width=".9" fill="none"/>
<rect x="153.4" y="96.8" width="5.8" height="5.7" fill="#d8c8f3" stroke="#746a98" stroke-width="1"/>
<path d="M165.3 94.2V94.7M165.3 96.9V97.7" stroke="#6a5e96" stroke-width=".9" fill="none"/>
<rect x="162.4" y="95.2" width="5.8" height="1.2" fill="#d8c8f3" stroke="#746a98" stroke-width="1"/>
<path d="M174.4 87.2V92.0M174.4 95.4V96.1" stroke="#6a5e96" stroke-width=".9" fill="none"/>
<rect x="171.5" y="92.5" width="5.8" height="2.3" fill="#d8c8f3" stroke="#746a98" stroke-width="1"/>
<path d="M183.4 72.2V75.9M183.4 92.0V102.0" stroke="#6a5e96" stroke-width=".9" fill="none"/>
<rect x="180.5" y="76.4" width="5.8" height="15.1" fill="#d8c8f3" stroke="#746a98" stroke-width="1"/>
<path d="M192.5 71.6V92.6" stroke="#a8408c" stroke-width="1" fill="none"/>
<rect x="189.1" y="75.9" width="6.8" height="3.2" fill="#c43264"/>
<path d="M201.5 67.8V70.8M201.5 79.2V79.8" stroke="#6a5e96" stroke-width=".9" fill="none"/>
<rect x="198.6" y="71.3" width="5.8" height="7.4" fill="#d8c8f3" stroke="#746a98" stroke-width="1"/>
<path d="M210.6 66.9V94.1" stroke="#a8408c" stroke-width="1" fill="none"/>
<rect x="207.2" y="70.8" width="6.8" height="8.7" fill="#c43264"/>
<path d="M219.6 74.3V108.5" stroke="#a8408c" stroke-width="1" fill="none"/>
<rect x="216.2" y="79.5" width="6.8" height="9.7" fill="#c43264"/>
<path d="M228.7 86.4V113.6" stroke="#a8408c" stroke-width="1" fill="none"/>
<rect x="225.3" y="89.2" width="6.8" height="21.7" fill="#c43264"/>
<path d="M237.7 92.3V94.9M237.7 110.9V114.8" stroke="#6a5e96" stroke-width=".9" fill="none"/>
<rect x="234.8" y="95.4" width="5.8" height="14.9" fill="#d8c8f3" stroke="#746a98" stroke-width="1"/>
<path d="M246.8 92.2V104.2" stroke="#a8408c" stroke-width="1" fill="none"/>
<rect x="243.4" y="94.9" width="6.8" height="4.0" fill="#c43264"/>
<path d="M255.8 96.5V130.2" stroke="#a8408c" stroke-width="1" fill="none"/>
<rect x="252.4" y="99.0" width="6.8" height="29.2" fill="#c43264"/>
<path d="M264.9 96.5V97.8M264.9 128.2V134.2" stroke="#6a5e96" stroke-width=".9" fill="none"/>
<rect x="262.0" y="98.3" width="5.8" height="29.4" fill="#d8c8f3" stroke="#746a98" stroke-width="1"/>
<path d="M273.9 95.7V114.9" stroke="#a8408c" stroke-width="1" fill="none"/>
<rect x="270.5" y="97.8" width="6.8" height="12.1" fill="#c43264"/>
<path d="M283.0 103.9V126.6" stroke="#a8408c" stroke-width="1" fill="none"/>
<rect x="279.6" y="109.9" width="6.8" height="8.8" fill="#c43264"/>
<path d="M292.0 107.3V117.0M292.0 119.2V123.2" stroke="#6a5e96" stroke-width=".9" fill="none"/>
<rect x="289.1" y="117.5" width="5.8" height="1.2" fill="#d8c8f3" stroke="#746a98" stroke-width="1"/>
<path d="M301.1 98.9V101.1M301.1 117.6V118.8" stroke="#6a5e96" stroke-width=".9" fill="none"/>
<rect x="298.2" y="101.6" width="5.8" height="15.6" fill="#d8c8f3" stroke="#746a98" stroke-width="1"/>
<path d="M310.2 80.7V87.3M310.2 101.1V105.3" stroke="#6a5e96" stroke-width=".9" fill="none"/>
<rect x="307.3" y="87.8" width="5.8" height="12.8" fill="#d8c8f3" stroke="#746a98" stroke-width="1"/>
<path d="M319.2 78.6V85.9M319.2 88.1V90.4" stroke="#6a5e96" stroke-width=".9" fill="none"/>
<rect x="316.3" y="86.4" width="5.8" height="1.2" fill="#d8c8f3" stroke="#746a98" stroke-width="1"/>
<path d="M328.3 77.5V95.1" stroke="#a8408c" stroke-width="1" fill="none"/>
<rect x="324.9" y="86.7" width="6.8" height="2.7" fill="#c43264"/>
<path d="M337.3 78.7V82.6M337.3 89.4V92.3" stroke="#6a5e96" stroke-width=".9" fill="none"/>
<rect x="334.4" y="83.1" width="5.8" height="5.8" fill="#d8c8f3" stroke="#746a98" stroke-width="1"/>
<path d="M346.4 81.9V91.8" stroke="#a8408c" stroke-width="1" fill="none"/>
<rect x="343.0" y="82.6" width="6.8" height="4.8" fill="#c43264"/>
<path d="M355.4 85.0V89.0" stroke="#a8408c" stroke-width="1" fill="none"/>
<rect x="352.0" y="87.4" width="6.8" height="1.4" fill="#c43264"/>
<path d="M364.5 79.6V80.1M364.5 88.8V88.9" stroke="#6a5e96" stroke-width=".9" fill="none"/>
<rect x="361.6" y="80.6" width="5.8" height="7.8" fill="#d8c8f3" stroke="#746a98" stroke-width="1"/>
<path d="M373.5 80.0V96.7" stroke="#a8408c" stroke-width="1" fill="none"/>
<rect x="370.1" y="80.1" width="6.8" height="8.4" fill="#c43264"/>
<path d="M382.6 88.3V114.8" stroke="#a8408c" stroke-width="1" fill="none"/>
<rect x="379.2" y="88.5" width="6.8" height="21.6" fill="#c43264"/>
<path d="M391.6 102.6V107.5M391.6 110.1V115.1" stroke="#6a5e96" stroke-width=".9" fill="none"/>
<rect x="388.7" y="108.0" width="5.8" height="1.6" fill="#d8c8f3" stroke="#746a98" stroke-width="1"/>
<path d="M400.7 90.2V94.5M400.7 107.5V112.1" stroke="#6a5e96" stroke-width=".9" fill="none"/>
<rect x="397.8" y="95.0" width="5.8" height="12.0" fill="#d8c8f3" stroke="#746a98" stroke-width="1"/>
<path d="M409.7 93.1V107.5" stroke="#a8408c" stroke-width="1" fill="none"/>
<rect x="406.3" y="94.5" width="6.8" height="3.4" fill="#c43264"/>
<path d="M418.8 88.2V92.4M418.8 97.9V99.8" stroke="#6a5e96" stroke-width=".9" fill="none"/>
<rect x="415.9" y="92.9" width="5.8" height="4.5" fill="#d8c8f3" stroke="#746a98" stroke-width="1"/>
<path d="M427.8 85.0V90.0M427.8 92.4V92.7" stroke="#6a5e96" stroke-width=".9" fill="none"/>
<rect x="424.9" y="90.5" width="5.8" height="1.4" fill="#d8c8f3" stroke="#746a98" stroke-width="1"/>
<path d="M436.9 72.2V78.3M436.9 90.0V91.6" stroke="#6a5e96" stroke-width=".9" fill="none"/>
<rect x="434.0" y="78.8" width="5.8" height="10.7" fill="#d8c8f3" stroke="#746a98" stroke-width="1"/>
<path d="M445.9 77.6V95.9" stroke="#a8408c" stroke-width="1" fill="none"/>
<rect x="442.5" y="78.3" width="6.8" height="12.8" fill="#c43264"/>
<path d="M455.0 80.6V83.4M455.0 91.1V99.5" stroke="#6a5e96" stroke-width=".9" fill="none"/>
<rect x="452.1" y="83.9" width="5.8" height="6.7" fill="#d8c8f3" stroke="#746a98" stroke-width="1"/>
<path d="M464.1 79.9V88.9" stroke="#a8408c" stroke-width="1" fill="none"/>
<rect x="460.7" y="83.4" width="6.8" height="3.2" fill="#c43264"/>
<path d="M473.1 80.3V112.0" stroke="#a8408c" stroke-width="1" fill="none"/>
<rect x="469.7" y="86.6" width="6.8" height="14.9" fill="#c43264"/>
<path d="M482.2 97.3V134.8" stroke="#a8408c" stroke-width="1" fill="none"/>
<rect x="478.8" y="101.5" width="6.8" height="16.5" fill="#c43264"/>
<path d="M491.2 108.1V109.0M491.2 118.0V127.2" stroke="#6a5e96" stroke-width=".9" fill="none"/>
<rect x="488.3" y="109.5" width="5.8" height="8.0" fill="#d8c8f3" stroke="#746a98" stroke-width="1"/>
<path d="M500.3 102.8V126.5" stroke="#a8408c" stroke-width="1" fill="none"/>
<rect x="496.9" y="109.0" width="6.8" height="11.6" fill="#c43264"/>
<path d="M509.3 115.7V118.5M509.3 120.7V130.0" stroke="#6a5e96" stroke-width=".9" fill="none"/>
<rect x="506.4" y="119.0" width="5.8" height="1.2" fill="#d8c8f3" stroke="#746a98" stroke-width="1"/>
<path d="M518.4 115.0V139.9" stroke="#a8408c" stroke-width="1" fill="none"/>
<rect x="515.0" y="118.7" width="6.8" height="13.0" fill="#c43264"/>
<path d="M527.4 117.0V120.3M527.4 131.6V134.1" stroke="#6a5e96" stroke-width=".9" fill="none"/>
<rect x="524.5" y="120.8" width="5.8" height="10.3" fill="#d8c8f3" stroke="#746a98" stroke-width="1"/>
<path d="M536.5 110.1V118.3M536.5 120.5V140.3" stroke="#6a5e96" stroke-width=".9" fill="none"/>
<rect x="533.6" y="118.8" width="5.8" height="1.2" fill="#d8c8f3" stroke="#746a98" stroke-width="1"/>
<path d="M545.5 110.3V112.7M545.5 118.5V122.3" stroke="#6a5e96" stroke-width=".9" fill="none"/>
<rect x="542.6" y="113.2" width="5.8" height="4.8" fill="#d8c8f3" stroke="#746a98" stroke-width="1"/>
<path d="M554.6 108.9V116.4" stroke="#a8408c" stroke-width="1" fill="none"/>
<rect x="551.2" y="112.2" width="6.8" height="1.4" fill="#c43264"/>
<path d="M563.6 100.9V103.1M563.6 113.0V115.0" stroke="#6a5e96" stroke-width=".9" fill="none"/>
<rect x="560.7" y="103.6" width="5.8" height="8.9" fill="#d8c8f3" stroke="#746a98" stroke-width="1"/>
<path d="M572.7 101.2V108.5" stroke="#a8408c" stroke-width="1" fill="none"/>
<rect x="569.3" y="103.1" width="6.8" height="2.1" fill="#c43264"/>
<path d="M581.7 101.8V119.6" stroke="#a8408c" stroke-width="1" fill="none"/>
<rect x="578.3" y="105.1" width="6.8" height="11.0" fill="#c43264"/>
<path d="M590.8 110.9V114.5M590.8 116.7V123.8" stroke="#6a5e96" stroke-width=".9" fill="none"/>
<rect x="587.9" y="115.0" width="5.8" height="1.2" fill="#d8c8f3" stroke="#746a98" stroke-width="1"/>
<path d="M599.8 113.4V121.2" stroke="#a8408c" stroke-width="1" fill="none"/>
<rect x="596.4" y="115.0" width="6.8" height="3.8" fill="#c43264"/>
<path d="M608.9 118.0V125.9" stroke="#a8408c" stroke-width="1" fill="none"/>
<rect x="605.5" y="118.8" width="6.8" height="1.6" fill="#c43264"/>
<path d="M618.0 115.7V123.9" stroke="#a8408c" stroke-width="1" fill="none"/>
<rect x="614.6" y="120.4" width="6.8" height="1.8" fill="#c43264"/>
<path d="M627.0 116.4V118.3M627.0 122.1V129.1" stroke="#6a5e96" stroke-width=".9" fill="none"/>
<rect x="624.1" y="118.8" width="5.8" height="2.9" fill="#d8c8f3" stroke="#746a98" stroke-width="1"/>
<path d="M636.1 113.8V142.4" stroke="#a8408c" stroke-width="1" fill="none"/>
<rect x="632.7" y="118.3" width="6.8" height="16.5" fill="#c43264"/>
<path d="M645.1 133.9V147.2" stroke="#a8408c" stroke-width="1" fill="none"/>
<rect x="641.7" y="134.8" width="6.8" height="12.5" fill="#c43264"/>
<path d="M654.2 140.3V143.1M654.2 146.7V154.1" stroke="#6a5e96" stroke-width=".9" fill="none"/>
<rect x="651.3" y="143.6" width="5.8" height="2.6" fill="#d8c8f3" stroke="#746a98" stroke-width="1"/>
<path d="M663.2 121.0V123.4M663.2 143.1V144.4" stroke="#6a5e96" stroke-width=".9" fill="none"/>
<rect x="660.3" y="123.9" width="5.8" height="18.7" fill="#d8c8f3" stroke="#746a98" stroke-width="1"/>
<path d="M672.3 114.8V118.2M672.3 123.4V125.1" stroke="#6a5e96" stroke-width=".9" fill="none"/>
<rect x="669.4" y="118.7" width="5.8" height="4.2" fill="#d8c8f3" stroke="#746a98" stroke-width="1"/>
<path d="M681.3 114.3V116.7M681.3 118.9V123.7" stroke="#6a5e96" stroke-width=".9" fill="none"/>
<rect x="678.4" y="117.2" width="5.8" height="1.2" fill="#d8c8f3" stroke="#746a98" stroke-width="1"/>
<path d="M690.4 109.9V124.3" stroke="#a8408c" stroke-width="1" fill="none"/>
<rect x="687.0" y="117.5" width="6.8" height="4.4" fill="#c43264"/>
<path d="M699.4 115.4V126.6" stroke="#a8408c" stroke-width="1" fill="none"/>
<rect x="696.0" y="121.9" width="6.8" height="4.4" fill="#c43264"/>
<path d="M708.5 122.6V133.6" stroke="#a8408c" stroke-width="1" fill="none"/>
<rect x="705.1" y="126.3" width="6.8" height="5.8" fill="#c43264"/>
<path d="M717.5 120.5V122.4M717.5 132.1V135.0" stroke="#6a5e96" stroke-width=".9" fill="none"/>
<rect x="714.6" y="122.9" width="5.8" height="8.7" fill="#d8c8f3" stroke="#746a98" stroke-width="1"/>
<path d="M726.6 120.3V137.3" stroke="#a8408c" stroke-width="1" fill="none"/>
<rect x="723.2" y="122.4" width="6.8" height="11.7" fill="#c43264"/>
<path d="M735.6 130.4V132.9M735.6 135.1V135.7" stroke="#6a5e96" stroke-width=".9" fill="none"/>
<rect x="732.7" y="133.4" width="5.8" height="1.2" fill="#d8c8f3" stroke="#746a98" stroke-width="1"/>
<path d="M744.7 128.5V130.6M744.7 134.0V135.1" stroke="#6a5e96" stroke-width=".9" fill="none"/>
<rect x="741.8" y="131.1" width="5.8" height="2.4" fill="#d8c8f3" stroke="#746a98" stroke-width="1"/>
<path d="M753.7 120.4V123.1M753.7 130.6V134.4" stroke="#6a5e96" stroke-width=".9" fill="none"/>
<rect x="750.8" y="123.6" width="5.8" height="6.5" fill="#d8c8f3" stroke="#746a98" stroke-width="1"/>
<path d="M762.8 122.1V132.3" stroke="#a8408c" stroke-width="1" fill="none"/>
<rect x="759.4" y="123.1" width="6.8" height="7.0" fill="#c43264"/>
<path d="M771.9 105.0V106.2M771.9 130.1V131.4" stroke="#6a5e96" stroke-width=".9" fill="none"/>
<rect x="769.0" y="106.7" width="5.8" height="22.9" fill="#d8c8f3" stroke="#746a98" stroke-width="1"/>
<path d="M780.9 103.4V114.5" stroke="#a8408c" stroke-width="1" fill="none"/>
<rect x="777.5" y="106.2" width="6.8" height="5.0" fill="#c43264"/>
<path d="M790.0 99.8V102.0M790.0 111.2V111.9" stroke="#6a5e96" stroke-width=".9" fill="none"/>
<rect x="787.1" y="102.5" width="5.8" height="8.2" fill="#d8c8f3" stroke="#746a98" stroke-width="1"/>
<path d="M799.0 100.1V104.2" stroke="#a8408c" stroke-width="1" fill="none"/>
<rect x="795.6" y="101.6" width="6.8" height="1.4" fill="#c43264"/>
<path d="M808.1 98.5V108.0" stroke="#a8408c" stroke-width="1" fill="none"/>
<rect x="804.7" y="102.6" width="6.8" height="3.3" fill="#c43264"/>
<path d="M817.1 78.8V79.2M817.1 105.9V107.0" stroke="#6a5e96" stroke-width=".9" fill="none"/>
<rect x="814.2" y="79.7" width="5.8" height="25.7" fill="#d8c8f3" stroke="#746a98" stroke-width="1"/>
<path d="M826.2 76.5V91.0" stroke="#a8408c" stroke-width="1" fill="none"/>
<rect x="822.8" y="79.2" width="6.8" height="6.7" fill="#c43264"/>
<path d="M835.2 83.2V92.6" stroke="#a8408c" stroke-width="1" fill="none"/>
<rect x="831.8" y="85.9" width="6.8" height="5.1" fill="#c43264"/>
<path d="M844.3 86.2V105.7" stroke="#a8408c" stroke-width="1" fill="none"/>
<rect x="840.9" y="91.0" width="6.8" height="6.2" fill="#c43264"/>
<path d="M853.3 90.5V94.1M853.3 97.1V104.2" stroke="#6a5e96" stroke-width=".9" fill="none"/>
<rect x="850.4" y="94.6" width="5.8" height="2.0" fill="#d8c8f3" stroke="#746a98" stroke-width="1"/>
<path d="M862.4 88.7V90.3M862.4 94.1V94.4" stroke="#6a5e96" stroke-width=".9" fill="none"/>
<rect x="859.5" y="90.8" width="5.8" height="2.8" fill="#d8c8f3" stroke="#746a98" stroke-width="1"/>
<path d="M871.4 88.9V96.3" stroke="#a8408c" stroke-width="1" fill="none"/>
<rect x="868.0" y="90.3" width="6.8" height="4.0" fill="#c43264"/>
<path d="M880.5 83.1V89.6M880.5 94.4V95.7" stroke="#6a5e96" stroke-width=".9" fill="none"/>
<rect x="877.6" y="90.1" width="5.8" height="3.8" fill="#d8c8f3" stroke="#746a98" stroke-width="1"/>
<path d="M889.5 88.8V100.7" stroke="#a8408c" stroke-width="1" fill="none"/>
<rect x="886.1" y="89.6" width="6.8" height="5.4" fill="#c43264"/>
<path d="M898.6 92.2V101.5" stroke="#a8408c" stroke-width="1" fill="none"/>
<rect x="895.2" y="94.9" width="6.8" height="3.8" fill="#c43264"/>
<path d="M907.7 89.2V95.2M907.7 98.8V101.5" stroke="#6a5e96" stroke-width=".9" fill="none"/>
<rect x="904.8" y="95.7" width="5.8" height="2.6" fill="#d8c8f3" stroke="#746a98" stroke-width="1"/>
<path d="M916.7 91.7V103.8" stroke="#a8408c" stroke-width="1" fill="none"/>
<rect x="913.3" y="95.2" width="6.8" height="4.2" fill="#c43264"/></g>
<g clip-path="url(#cpC)"><path d="M2.4 174.4V178.0M2.4 180.6V185.9" stroke="#58b4b0" stroke-width=".9" fill="none"/>
<rect x="-0.5" y="178.5" width="5.8" height="1.6" fill="none" stroke="#58b4b0" stroke-width="1"/>
<path d="M11.4 176.9V186.6" stroke="#b06040" stroke-width="1" fill="none"/>
<rect x="8.0" y="178.0" width="6.8" height="2.6" fill="#b06040"/>
<path d="M20.5 179.1V184.9" stroke="#b06040" stroke-width="1" fill="none"/>
<rect x="17.1" y="180.6" width="6.8" height="2.6" fill="#b06040"/>
<path d="M29.5 181.8V187.1" stroke="#b06040" stroke-width="1" fill="none"/>
<rect x="26.1" y="183.1" width="6.8" height="2.8" fill="#b06040"/>
<path d="M38.6 181.0V181.7M38.6 185.9V186.8" stroke="#58b4b0" stroke-width=".9" fill="none"/>
<rect x="35.7" y="182.2" width="5.8" height="3.2" fill="none" stroke="#58b4b0" stroke-width="1"/>
<path d="M47.6 179.7V180.2M47.6 182.4V183.2" stroke="#58b4b0" stroke-width=".9" fill="none"/>
<rect x="44.7" y="180.7" width="5.8" height="1.2" fill="none" stroke="#58b4b0" stroke-width="1"/>
<path d="M56.7 164.5V166.7M56.7 180.9V185.1" stroke="#58b4b0" stroke-width=".9" fill="none"/>
<rect x="53.8" y="167.2" width="5.8" height="13.2" fill="none" stroke="#58b4b0" stroke-width="1"/>
<path d="M65.7 150.7V153.5M65.7 166.7V166.8" stroke="#58b4b0" stroke-width=".9" fill="none"/>
<rect x="62.8" y="154.0" width="5.8" height="12.2" fill="none" stroke="#58b4b0" stroke-width="1"/>
<path d="M74.8 117.6V125.7M74.8 153.5V155.3" stroke="#58b4b0" stroke-width=".9" fill="none"/>
<rect x="71.9" y="126.2" width="5.8" height="26.8" fill="none" stroke="#58b4b0" stroke-width="1"/>
<path d="M83.8 119.3V136.3" stroke="#b06040" stroke-width="1" fill="none"/>
<rect x="80.4" y="125.7" width="6.8" height="6.7" fill="#b06040"/>
<path d="M92.9 122.2V125.9M92.9 132.4V134.2" stroke="#58b4b0" stroke-width=".9" fill="none"/>
<rect x="90.0" y="126.4" width="5.8" height="5.5" fill="none" stroke="#58b4b0" stroke-width="1"/>
<path d="M101.9 125.7V130.2" stroke="#b06040" stroke-width="1" fill="none"/>
<rect x="98.5" y="125.9" width="6.8" height="2.1" fill="#b06040"/>
<path d="M111.0 121.6V122.2M111.0 128.0V131.4" stroke="#58b4b0" stroke-width=".9" fill="none"/>
<rect x="108.1" y="122.7" width="5.8" height="4.8" fill="none" stroke="#58b4b0" stroke-width="1"/>
<path d="M120.0 94.4V95.2M120.0 122.2V126.4" stroke="#58b4b0" stroke-width=".9" fill="none"/>
<rect x="117.1" y="95.7" width="5.8" height="26.0" fill="none" stroke="#58b4b0" stroke-width="1"/>
<path d="M129.1 91.0V143.4" stroke="#b06040" stroke-width="1" fill="none"/>
<rect x="125.7" y="95.2" width="6.8" height="23.8" fill="#b06040"/>
<path d="M138.1 98.8V106.9M138.1 119.0V123.9" stroke="#58b4b0" stroke-width=".9" fill="none"/>
<rect x="135.2" y="107.4" width="5.8" height="11.1" fill="none" stroke="#58b4b0" stroke-width="1"/>
<path d="M147.2 97.1V103.0M147.2 106.9V109.6" stroke="#58b4b0" stroke-width=".9" fill="none"/>
<rect x="144.3" y="103.5" width="5.8" height="2.9" fill="none" stroke="#58b4b0" stroke-width="1"/>
<path d="M156.3 86.7V96.3M156.3 103.0V106.9" stroke="#58b4b0" stroke-width=".9" fill="none"/>
<rect x="153.4" y="96.8" width="5.8" height="5.7" fill="none" stroke="#58b4b0" stroke-width="1"/>
<path d="M165.3 94.2V94.7M165.3 96.9V97.7" stroke="#58b4b0" stroke-width=".9" fill="none"/>
<rect x="162.4" y="95.2" width="5.8" height="1.2" fill="none" stroke="#58b4b0" stroke-width="1"/>
<path d="M174.4 87.2V92.0M174.4 95.4V96.1" stroke="#58b4b0" stroke-width=".9" fill="none"/>
<rect x="171.5" y="92.5" width="5.8" height="2.3" fill="none" stroke="#58b4b0" stroke-width="1"/>
<path d="M183.4 72.2V75.9M183.4 92.0V102.0" stroke="#58b4b0" stroke-width=".9" fill="none"/>
<rect x="180.5" y="76.4" width="5.8" height="15.1" fill="none" stroke="#58b4b0" stroke-width="1"/>
<path d="M192.5 71.6V92.6" stroke="#b06040" stroke-width="1" fill="none"/>
<rect x="189.1" y="75.9" width="6.8" height="3.2" fill="#b06040"/>
<path d="M201.5 67.8V70.8M201.5 79.2V79.8" stroke="#58b4b0" stroke-width=".9" fill="none"/>
<rect x="198.6" y="71.3" width="5.8" height="7.4" fill="none" stroke="#58b4b0" stroke-width="1"/>
<path d="M210.6 66.9V94.1" stroke="#b06040" stroke-width="1" fill="none"/>
<rect x="207.2" y="70.8" width="6.8" height="8.7" fill="#b06040"/>
<path d="M219.6 74.3V108.5" stroke="#b06040" stroke-width="1" fill="none"/>
<rect x="216.2" y="79.5" width="6.8" height="9.7" fill="#b06040"/>
<path d="M228.7 86.4V113.6" stroke="#b06040" stroke-width="1" fill="none"/>
<rect x="225.3" y="89.2" width="6.8" height="21.7" fill="#b06040"/>
<path d="M237.7 92.3V94.9M237.7 110.9V114.8" stroke="#58b4b0" stroke-width=".9" fill="none"/>
<rect x="234.8" y="95.4" width="5.8" height="14.9" fill="none" stroke="#58b4b0" stroke-width="1"/>
<path d="M246.8 92.2V104.2" stroke="#b06040" stroke-width="1" fill="none"/>
<rect x="243.4" y="94.9" width="6.8" height="4.0" fill="#b06040"/>
<path d="M255.8 96.5V130.2" stroke="#b06040" stroke-width="1" fill="none"/>
<rect x="252.4" y="99.0" width="6.8" height="29.2" fill="#b06040"/>
<path d="M264.9 96.5V97.8M264.9 128.2V134.2" stroke="#58b4b0" stroke-width=".9" fill="none"/>
<rect x="262.0" y="98.3" width="5.8" height="29.4" fill="none" stroke="#58b4b0" stroke-width="1"/>
<path d="M273.9 95.7V114.9" stroke="#b06040" stroke-width="1" fill="none"/>
<rect x="270.5" y="97.8" width="6.8" height="12.1" fill="#b06040"/>
<path d="M283.0 103.9V126.6" stroke="#b06040" stroke-width="1" fill="none"/>
<rect x="279.6" y="109.9" width="6.8" height="8.8" fill="#b06040"/>
<path d="M292.0 107.3V117.0M292.0 119.2V123.2" stroke="#58b4b0" stroke-width=".9" fill="none"/>
<rect x="289.1" y="117.5" width="5.8" height="1.2" fill="none" stroke="#58b4b0" stroke-width="1"/>
<path d="M301.1 98.9V101.1M301.1 117.6V118.8" stroke="#58b4b0" stroke-width=".9" fill="none"/>
<rect x="298.2" y="101.6" width="5.8" height="15.6" fill="none" stroke="#58b4b0" stroke-width="1"/>
<path d="M310.2 80.7V87.3M310.2 101.1V105.3" stroke="#58b4b0" stroke-width=".9" fill="none"/>
<rect x="307.3" y="87.8" width="5.8" height="12.8" fill="none" stroke="#58b4b0" stroke-width="1"/>
<path d="M319.2 78.6V85.9M319.2 88.1V90.4" stroke="#58b4b0" stroke-width=".9" fill="none"/>
<rect x="316.3" y="86.4" width="5.8" height="1.2" fill="none" stroke="#58b4b0" stroke-width="1"/>
<path d="M328.3 77.5V95.1" stroke="#b06040" stroke-width="1" fill="none"/>
<rect x="324.9" y="86.7" width="6.8" height="2.7" fill="#b06040"/>
<path d="M337.3 78.7V82.6M337.3 89.4V92.3" stroke="#58b4b0" stroke-width=".9" fill="none"/>
<rect x="334.4" y="83.1" width="5.8" height="5.8" fill="none" stroke="#58b4b0" stroke-width="1"/>
<path d="M346.4 81.9V91.8" stroke="#b06040" stroke-width="1" fill="none"/>
<rect x="343.0" y="82.6" width="6.8" height="4.8" fill="#b06040"/>
<path d="M355.4 85.0V89.0" stroke="#b06040" stroke-width="1" fill="none"/>
<rect x="352.0" y="87.4" width="6.8" height="1.4" fill="#b06040"/>
<path d="M364.5 79.6V80.1M364.5 88.8V88.9" stroke="#58b4b0" stroke-width=".9" fill="none"/>
<rect x="361.6" y="80.6" width="5.8" height="7.8" fill="none" stroke="#58b4b0" stroke-width="1"/>
<path d="M373.5 80.0V96.7" stroke="#b06040" stroke-width="1" fill="none"/>
<rect x="370.1" y="80.1" width="6.8" height="8.4" fill="#b06040"/>
<path d="M382.6 88.3V114.8" stroke="#b06040" stroke-width="1" fill="none"/>
<rect x="379.2" y="88.5" width="6.8" height="21.6" fill="#b06040"/>
<path d="M391.6 102.6V107.5M391.6 110.1V115.1" stroke="#58b4b0" stroke-width=".9" fill="none"/>
<rect x="388.7" y="108.0" width="5.8" height="1.6" fill="none" stroke="#58b4b0" stroke-width="1"/>
<path d="M400.7 90.2V94.5M400.7 107.5V112.1" stroke="#58b4b0" stroke-width=".9" fill="none"/>
<rect x="397.8" y="95.0" width="5.8" height="12.0" fill="none" stroke="#58b4b0" stroke-width="1"/>
<path d="M409.7 93.1V107.5" stroke="#b06040" stroke-width="1" fill="none"/>
<rect x="406.3" y="94.5" width="6.8" height="3.4" fill="#b06040"/>
<path d="M418.8 88.2V92.4M418.8 97.9V99.8" stroke="#58b4b0" stroke-width=".9" fill="none"/>
<rect x="415.9" y="92.9" width="5.8" height="4.5" fill="none" stroke="#58b4b0" stroke-width="1"/>
<path d="M427.8 85.0V90.0M427.8 92.4V92.7" stroke="#58b4b0" stroke-width=".9" fill="none"/>
<rect x="424.9" y="90.5" width="5.8" height="1.4" fill="none" stroke="#58b4b0" stroke-width="1"/>
<path d="M436.9 72.2V78.3M436.9 90.0V91.6" stroke="#58b4b0" stroke-width=".9" fill="none"/>
<rect x="434.0" y="78.8" width="5.8" height="10.7" fill="none" stroke="#58b4b0" stroke-width="1"/>
<path d="M445.9 77.6V95.9" stroke="#b06040" stroke-width="1" fill="none"/>
<rect x="442.5" y="78.3" width="6.8" height="12.8" fill="#b06040"/>
<path d="M455.0 80.6V83.4M455.0 91.1V99.5" stroke="#58b4b0" stroke-width=".9" fill="none"/>
<rect x="452.1" y="83.9" width="5.8" height="6.7" fill="none" stroke="#58b4b0" stroke-width="1"/>
<path d="M464.1 79.9V88.9" stroke="#b06040" stroke-width="1" fill="none"/>
<rect x="460.7" y="83.4" width="6.8" height="3.2" fill="#b06040"/>
<path d="M473.1 80.3V112.0" stroke="#b06040" stroke-width="1" fill="none"/>
<rect x="469.7" y="86.6" width="6.8" height="14.9" fill="#b06040"/>
<path d="M482.2 97.3V134.8" stroke="#b06040" stroke-width="1" fill="none"/>
<rect x="478.8" y="101.5" width="6.8" height="16.5" fill="#b06040"/>
<path d="M491.2 108.1V109.0M491.2 118.0V127.2" stroke="#58b4b0" stroke-width=".9" fill="none"/>
<rect x="488.3" y="109.5" width="5.8" height="8.0" fill="none" stroke="#58b4b0" stroke-width="1"/>
<path d="M500.3 102.8V126.5" stroke="#b06040" stroke-width="1" fill="none"/>
<rect x="496.9" y="109.0" width="6.8" height="11.6" fill="#b06040"/>
<path d="M509.3 115.7V118.5M509.3 120.7V130.0" stroke="#58b4b0" stroke-width=".9" fill="none"/>
<rect x="506.4" y="119.0" width="5.8" height="1.2" fill="none" stroke="#58b4b0" stroke-width="1"/>
<path d="M518.4 115.0V139.9" stroke="#b06040" stroke-width="1" fill="none"/>
<rect x="515.0" y="118.7" width="6.8" height="13.0" fill="#b06040"/>
<path d="M527.4 117.0V120.3M527.4 131.6V134.1" stroke="#58b4b0" stroke-width=".9" fill="none"/>
<rect x="524.5" y="120.8" width="5.8" height="10.3" fill="none" stroke="#58b4b0" stroke-width="1"/>
<path d="M536.5 110.1V118.3M536.5 120.5V140.3" stroke="#58b4b0" stroke-width=".9" fill="none"/>
<rect x="533.6" y="118.8" width="5.8" height="1.2" fill="none" stroke="#58b4b0" stroke-width="1"/>
<path d="M545.5 110.3V112.7M545.5 118.5V122.3" stroke="#58b4b0" stroke-width=".9" fill="none"/>
<rect x="542.6" y="113.2" width="5.8" height="4.8" fill="none" stroke="#58b4b0" stroke-width="1"/>
<path d="M554.6 108.9V116.4" stroke="#b06040" stroke-width="1" fill="none"/>
<rect x="551.2" y="112.2" width="6.8" height="1.4" fill="#b06040"/>
<path d="M563.6 100.9V103.1M563.6 113.0V115.0" stroke="#58b4b0" stroke-width=".9" fill="none"/>
<rect x="560.7" y="103.6" width="5.8" height="8.9" fill="none" stroke="#58b4b0" stroke-width="1"/>
<path d="M572.7 101.2V108.5" stroke="#b06040" stroke-width="1" fill="none"/>
<rect x="569.3" y="103.1" width="6.8" height="2.1" fill="#b06040"/>
<path d="M581.7 101.8V119.6" stroke="#b06040" stroke-width="1" fill="none"/>
<rect x="578.3" y="105.1" width="6.8" height="11.0" fill="#b06040"/>
<path d="M590.8 110.9V114.5M590.8 116.7V123.8" stroke="#58b4b0" stroke-width=".9" fill="none"/>
<rect x="587.9" y="115.0" width="5.8" height="1.2" fill="none" stroke="#58b4b0" stroke-width="1"/>
<path d="M599.8 113.4V121.2" stroke="#b06040" stroke-width="1" fill="none"/>
<rect x="596.4" y="115.0" width="6.8" height="3.8" fill="#b06040"/>
<path d="M608.9 118.0V125.9" stroke="#b06040" stroke-width="1" fill="none"/>
<rect x="605.5" y="118.8" width="6.8" height="1.6" fill="#b06040"/>
<path d="M618.0 115.7V123.9" stroke="#b06040" stroke-width="1" fill="none"/>
<rect x="614.6" y="120.4" width="6.8" height="1.8" fill="#b06040"/>
<path d="M627.0 116.4V118.3M627.0 122.1V129.1" stroke="#58b4b0" stroke-width=".9" fill="none"/>
<rect x="624.1" y="118.8" width="5.8" height="2.9" fill="none" stroke="#58b4b0" stroke-width="1"/>
<path d="M636.1 113.8V142.4" stroke="#b06040" stroke-width="1" fill="none"/>
<rect x="632.7" y="118.3" width="6.8" height="16.5" fill="#b06040"/>
<path d="M645.1 133.9V147.2" stroke="#b06040" stroke-width="1" fill="none"/>
<rect x="641.7" y="134.8" width="6.8" height="12.5" fill="#b06040"/>
<path d="M654.2 140.3V143.1M654.2 146.7V154.1" stroke="#58b4b0" stroke-width=".9" fill="none"/>
<rect x="651.3" y="143.6" width="5.8" height="2.6" fill="none" stroke="#58b4b0" stroke-width="1"/>
<path d="M663.2 121.0V123.4M663.2 143.1V144.4" stroke="#58b4b0" stroke-width=".9" fill="none"/>
<rect x="660.3" y="123.9" width="5.8" height="18.7" fill="none" stroke="#58b4b0" stroke-width="1"/>
<path d="M672.3 114.8V118.2M672.3 123.4V125.1" stroke="#58b4b0" stroke-width=".9" fill="none"/>
<rect x="669.4" y="118.7" width="5.8" height="4.2" fill="none" stroke="#58b4b0" stroke-width="1"/>
<path d="M681.3 114.3V116.7M681.3 118.9V123.7" stroke="#58b4b0" stroke-width=".9" fill="none"/>
<rect x="678.4" y="117.2" width="5.8" height="1.2" fill="none" stroke="#58b4b0" stroke-width="1"/>
<path d="M690.4 109.9V124.3" stroke="#b06040" stroke-width="1" fill="none"/>
<rect x="687.0" y="117.5" width="6.8" height="4.4" fill="#b06040"/>
<path d="M699.4 115.4V126.6" stroke="#b06040" stroke-width="1" fill="none"/>
<rect x="696.0" y="121.9" width="6.8" height="4.4" fill="#b06040"/>
<path d="M708.5 122.6V133.6" stroke="#b06040" stroke-width="1" fill="none"/>
<rect x="705.1" y="126.3" width="6.8" height="5.8" fill="#b06040"/>
<path d="M717.5 120.5V122.4M717.5 132.1V135.0" stroke="#58b4b0" stroke-width=".9" fill="none"/>
<rect x="714.6" y="122.9" width="5.8" height="8.7" fill="none" stroke="#58b4b0" stroke-width="1"/>
<path d="M726.6 120.3V137.3" stroke="#b06040" stroke-width="1" fill="none"/>
<rect x="723.2" y="122.4" width="6.8" height="11.7" fill="#b06040"/>
<path d="M735.6 130.4V132.9M735.6 135.1V135.7" stroke="#58b4b0" stroke-width=".9" fill="none"/>
<rect x="732.7" y="133.4" width="5.8" height="1.2" fill="none" stroke="#58b4b0" stroke-width="1"/>
<path d="M744.7 128.5V130.6M744.7 134.0V135.1" stroke="#58b4b0" stroke-width=".9" fill="none"/>
<rect x="741.8" y="131.1" width="5.8" height="2.4" fill="none" stroke="#58b4b0" stroke-width="1"/>
<path d="M753.7 120.4V123.1M753.7 130.6V134.4" stroke="#58b4b0" stroke-width=".9" fill="none"/>
<rect x="750.8" y="123.6" width="5.8" height="6.5" fill="none" stroke="#58b4b0" stroke-width="1"/>
<path d="M762.8 122.1V132.3" stroke="#b06040" stroke-width="1" fill="none"/>
<rect x="759.4" y="123.1" width="6.8" height="7.0" fill="#b06040"/>
<path d="M771.9 105.0V106.2M771.9 130.1V131.4" stroke="#58b4b0" stroke-width=".9" fill="none"/>
<rect x="769.0" y="106.7" width="5.8" height="22.9" fill="none" stroke="#58b4b0" stroke-width="1"/>
<path d="M780.9 103.4V114.5" stroke="#b06040" stroke-width="1" fill="none"/>
<rect x="777.5" y="106.2" width="6.8" height="5.0" fill="#b06040"/>
<path d="M790.0 99.8V102.0M790.0 111.2V111.9" stroke="#58b4b0" stroke-width=".9" fill="none"/>
<rect x="787.1" y="102.5" width="5.8" height="8.2" fill="none" stroke="#58b4b0" stroke-width="1"/>
<path d="M799.0 100.1V104.2" stroke="#b06040" stroke-width="1" fill="none"/>
<rect x="795.6" y="101.6" width="6.8" height="1.4" fill="#b06040"/>
<path d="M808.1 98.5V108.0" stroke="#b06040" stroke-width="1" fill="none"/>
<rect x="804.7" y="102.6" width="6.8" height="3.3" fill="#b06040"/>
<path d="M817.1 78.8V79.2M817.1 105.9V107.0" stroke="#58b4b0" stroke-width=".9" fill="none"/>
<rect x="814.2" y="79.7" width="5.8" height="25.7" fill="none" stroke="#58b4b0" stroke-width="1"/>
<path d="M826.2 76.5V91.0" stroke="#b06040" stroke-width="1" fill="none"/>
<rect x="822.8" y="79.2" width="6.8" height="6.7" fill="#b06040"/>
<path d="M835.2 83.2V92.6" stroke="#b06040" stroke-width="1" fill="none"/>
<rect x="831.8" y="85.9" width="6.8" height="5.1" fill="#b06040"/>
<path d="M844.3 86.2V105.7" stroke="#b06040" stroke-width="1" fill="none"/>
<rect x="840.9" y="91.0" width="6.8" height="6.2" fill="#b06040"/>
<path d="M853.3 90.5V94.1M853.3 97.1V104.2" stroke="#58b4b0" stroke-width=".9" fill="none"/>
<rect x="850.4" y="94.6" width="5.8" height="2.0" fill="none" stroke="#58b4b0" stroke-width="1"/>
<path d="M862.4 88.7V90.3M862.4 94.1V94.4" stroke="#58b4b0" stroke-width=".9" fill="none"/>
<rect x="859.5" y="90.8" width="5.8" height="2.8" fill="none" stroke="#58b4b0" stroke-width="1"/>
<path d="M871.4 88.9V96.3" stroke="#b06040" stroke-width="1" fill="none"/>
<rect x="868.0" y="90.3" width="6.8" height="4.0" fill="#b06040"/>
<path d="M880.5 83.1V89.6M880.5 94.4V95.7" stroke="#58b4b0" stroke-width=".9" fill="none"/>
<rect x="877.6" y="90.1" width="5.8" height="3.8" fill="none" stroke="#58b4b0" stroke-width="1"/>
<path d="M889.5 88.8V100.7" stroke="#b06040" stroke-width="1" fill="none"/>
<rect x="886.1" y="89.6" width="6.8" height="5.4" fill="#b06040"/>
<path d="M898.6 92.2V101.5" stroke="#b06040" stroke-width="1" fill="none"/>
<rect x="895.2" y="94.9" width="6.8" height="3.8" fill="#b06040"/>
<path d="M907.7 89.2V95.2M907.7 98.8V101.5" stroke="#58b4b0" stroke-width=".9" fill="none"/>
<rect x="904.8" y="95.7" width="5.8" height="2.6" fill="none" stroke="#58b4b0" stroke-width="1"/>
<path d="M916.7 91.7V103.8" stroke="#b06040" stroke-width="1" fill="none"/>
<rect x="913.3" y="95.2" width="6.8" height="4.2" fill="#b06040"/></g>
<g clip-path="url(#cpB)"><path d="M2.4 174.4V178.0M2.4 180.6V185.9" stroke="#4c84bc" stroke-width=".9" fill="none"/>
<rect x="-0.5" y="178.5" width="5.8" height="1.6" fill="none" stroke="#5490c4" stroke-width="1"/>
<path d="M11.4 176.9V186.6" stroke="#5e6ca4" stroke-width="1" fill="none"/>
<rect x="8.0" y="178.0" width="6.8" height="2.6" fill="#8f6078"/>
<path d="M20.5 179.1V184.9" stroke="#5e6ca4" stroke-width="1" fill="none"/>
<rect x="17.1" y="180.6" width="6.8" height="2.6" fill="#8f6078"/>
<path d="M29.5 181.8V187.1" stroke="#5e6ca4" stroke-width="1" fill="none"/>
<rect x="26.1" y="183.1" width="6.8" height="2.8" fill="#8f6078"/>
<path d="M38.6 181.0V181.7M38.6 185.9V186.8" stroke="#4c84bc" stroke-width=".9" fill="none"/>
<rect x="35.7" y="182.2" width="5.8" height="3.2" fill="none" stroke="#5490c4" stroke-width="1"/>
<path d="M47.6 179.7V180.2M47.6 182.4V183.2" stroke="#4c84bc" stroke-width=".9" fill="none"/>
<rect x="44.7" y="180.7" width="5.8" height="1.2" fill="none" stroke="#5490c4" stroke-width="1"/>
<path d="M56.7 164.5V166.7M56.7 180.9V185.1" stroke="#4c84bc" stroke-width=".9" fill="none"/>
<rect x="53.8" y="167.2" width="5.8" height="13.2" fill="none" stroke="#5490c4" stroke-width="1"/>
<path d="M65.7 150.7V153.5M65.7 166.7V166.8" stroke="#4c84bc" stroke-width=".9" fill="none"/>
<rect x="62.8" y="154.0" width="5.8" height="12.2" fill="none" stroke="#5490c4" stroke-width="1"/>
<path d="M74.8 117.6V125.7M74.8 153.5V155.3" stroke="#4c84bc" stroke-width=".9" fill="none"/>
<rect x="71.9" y="126.2" width="5.8" height="26.8" fill="none" stroke="#5490c4" stroke-width="1"/>
<path d="M83.8 119.3V136.3" stroke="#5e6ca4" stroke-width="1" fill="none"/>
<rect x="80.4" y="125.7" width="6.8" height="6.7" fill="#8f6078"/>
<path d="M92.9 122.2V125.9M92.9 132.4V134.2" stroke="#4c84bc" stroke-width=".9" fill="none"/>
<rect x="90.0" y="126.4" width="5.8" height="5.5" fill="none" stroke="#5490c4" stroke-width="1"/>
<path d="M101.9 125.7V130.2" stroke="#5e6ca4" stroke-width="1" fill="none"/>
<rect x="98.5" y="125.9" width="6.8" height="2.1" fill="#8f6078"/>
<path d="M111.0 121.6V122.2M111.0 128.0V131.4" stroke="#4c84bc" stroke-width=".9" fill="none"/>
<rect x="108.1" y="122.7" width="5.8" height="4.8" fill="none" stroke="#5490c4" stroke-width="1"/>
<path d="M120.0 94.4V95.2M120.0 122.2V126.4" stroke="#4c84bc" stroke-width=".9" fill="none"/>
<rect x="117.1" y="95.7" width="5.8" height="26.0" fill="none" stroke="#5490c4" stroke-width="1"/>
<path d="M129.1 91.0V143.4" stroke="#5e6ca4" stroke-width="1" fill="none"/>
<rect x="125.7" y="95.2" width="6.8" height="23.8" fill="#8f6078"/>
<path d="M138.1 98.8V106.9M138.1 119.0V123.9" stroke="#4c84bc" stroke-width=".9" fill="none"/>
<rect x="135.2" y="107.4" width="5.8" height="11.1" fill="none" stroke="#5490c4" stroke-width="1"/>
<path d="M147.2 97.1V103.0M147.2 106.9V109.6" stroke="#4c84bc" stroke-width=".9" fill="none"/>
<rect x="144.3" y="103.5" width="5.8" height="2.9" fill="none" stroke="#5490c4" stroke-width="1"/>
<path d="M156.3 86.7V96.3M156.3 103.0V106.9" stroke="#4c84bc" stroke-width=".9" fill="none"/>
<rect x="153.4" y="96.8" width="5.8" height="5.7" fill="none" stroke="#5490c4" stroke-width="1"/>
<path d="M165.3 94.2V94.7M165.3 96.9V97.7" stroke="#4c84bc" stroke-width=".9" fill="none"/>
<rect x="162.4" y="95.2" width="5.8" height="1.2" fill="none" stroke="#5490c4" stroke-width="1"/>
<path d="M174.4 87.2V92.0M174.4 95.4V96.1" stroke="#4c84bc" stroke-width=".9" fill="none"/>
<rect x="171.5" y="92.5" width="5.8" height="2.3" fill="none" stroke="#5490c4" stroke-width="1"/>
<path d="M183.4 72.2V75.9M183.4 92.0V102.0" stroke="#4c84bc" stroke-width=".9" fill="none"/>
<rect x="180.5" y="76.4" width="5.8" height="15.1" fill="none" stroke="#5490c4" stroke-width="1"/>
<path d="M192.5 71.6V92.6" stroke="#5e6ca4" stroke-width="1" fill="none"/>
<rect x="189.1" y="75.9" width="6.8" height="3.2" fill="#8f6078"/>
<path d="M201.5 67.8V70.8M201.5 79.2V79.8" stroke="#4c84bc" stroke-width=".9" fill="none"/>
<rect x="198.6" y="71.3" width="5.8" height="7.4" fill="none" stroke="#5490c4" stroke-width="1"/>
<path d="M210.6 66.9V94.1" stroke="#5e6ca4" stroke-width="1" fill="none"/>
<rect x="207.2" y="70.8" width="6.8" height="8.7" fill="#8f6078"/>
<path d="M219.6 74.3V108.5" stroke="#5e6ca4" stroke-width="1" fill="none"/>
<rect x="216.2" y="79.5" width="6.8" height="9.7" fill="#8f6078"/>
<path d="M228.7 86.4V113.6" stroke="#5e6ca4" stroke-width="1" fill="none"/>
<rect x="225.3" y="89.2" width="6.8" height="21.7" fill="#8f6078"/>
<path d="M237.7 92.3V94.9M237.7 110.9V114.8" stroke="#4c84bc" stroke-width=".9" fill="none"/>
<rect x="234.8" y="95.4" width="5.8" height="14.9" fill="none" stroke="#5490c4" stroke-width="1"/>
<path d="M246.8 92.2V104.2" stroke="#5e6ca4" stroke-width="1" fill="none"/>
<rect x="243.4" y="94.9" width="6.8" height="4.0" fill="#8f6078"/>
<path d="M255.8 96.5V130.2" stroke="#5e6ca4" stroke-width="1" fill="none"/>
<rect x="252.4" y="99.0" width="6.8" height="29.2" fill="#8f6078"/>
<path d="M264.9 96.5V97.8M264.9 128.2V134.2" stroke="#4c84bc" stroke-width=".9" fill="none"/>
<rect x="262.0" y="98.3" width="5.8" height="29.4" fill="none" stroke="#5490c4" stroke-width="1"/>
<path d="M273.9 95.7V114.9" stroke="#5e6ca4" stroke-width="1" fill="none"/>
<rect x="270.5" y="97.8" width="6.8" height="12.1" fill="#8f6078"/>
<path d="M283.0 103.9V126.6" stroke="#5e6ca4" stroke-width="1" fill="none"/>
<rect x="279.6" y="109.9" width="6.8" height="8.8" fill="#8f6078"/>
<path d="M292.0 107.3V117.0M292.0 119.2V123.2" stroke="#4c84bc" stroke-width=".9" fill="none"/>
<rect x="289.1" y="117.5" width="5.8" height="1.2" fill="none" stroke="#5490c4" stroke-width="1"/>
<path d="M301.1 98.9V101.1M301.1 117.6V118.8" stroke="#4c84bc" stroke-width=".9" fill="none"/>
<rect x="298.2" y="101.6" width="5.8" height="15.6" fill="none" stroke="#5490c4" stroke-width="1"/>
<path d="M310.2 80.7V87.3M310.2 101.1V105.3" stroke="#4c84bc" stroke-width=".9" fill="none"/>
<rect x="307.3" y="87.8" width="5.8" height="12.8" fill="none" stroke="#5490c4" stroke-width="1"/>
<path d="M319.2 78.6V85.9M319.2 88.1V90.4" stroke="#4c84bc" stroke-width=".9" fill="none"/>
<rect x="316.3" y="86.4" width="5.8" height="1.2" fill="none" stroke="#5490c4" stroke-width="1"/>
<path d="M328.3 77.5V95.1" stroke="#5e6ca4" stroke-width="1" fill="none"/>
<rect x="324.9" y="86.7" width="6.8" height="2.7" fill="#8f6078"/>
<path d="M337.3 78.7V82.6M337.3 89.4V92.3" stroke="#4c84bc" stroke-width=".9" fill="none"/>
<rect x="334.4" y="83.1" width="5.8" height="5.8" fill="none" stroke="#5490c4" stroke-width="1"/>
<path d="M346.4 81.9V91.8" stroke="#5e6ca4" stroke-width="1" fill="none"/>
<rect x="343.0" y="82.6" width="6.8" height="4.8" fill="#8f6078"/>
<path d="M355.4 85.0V89.0" stroke="#5e6ca4" stroke-width="1" fill="none"/>
<rect x="352.0" y="87.4" width="6.8" height="1.4" fill="#8f6078"/>
<path d="M364.5 79.6V80.1M364.5 88.8V88.9" stroke="#4c84bc" stroke-width=".9" fill="none"/>
<rect x="361.6" y="80.6" width="5.8" height="7.8" fill="none" stroke="#5490c4" stroke-width="1"/>
<path d="M373.5 80.0V96.7" stroke="#5e6ca4" stroke-width="1" fill="none"/>
<rect x="370.1" y="80.1" width="6.8" height="8.4" fill="#8f6078"/>
<path d="M382.6 88.3V114.8" stroke="#5e6ca4" stroke-width="1" fill="none"/>
<rect x="379.2" y="88.5" width="6.8" height="21.6" fill="#8f6078"/>
<path d="M391.6 102.6V107.5M391.6 110.1V115.1" stroke="#4c84bc" stroke-width=".9" fill="none"/>
<rect x="388.7" y="108.0" width="5.8" height="1.6" fill="none" stroke="#5490c4" stroke-width="1"/>
<path d="M400.7 90.2V94.5M400.7 107.5V112.1" stroke="#4c84bc" stroke-width=".9" fill="none"/>
<rect x="397.8" y="95.0" width="5.8" height="12.0" fill="none" stroke="#5490c4" stroke-width="1"/>
<path d="M409.7 93.1V107.5" stroke="#5e6ca4" stroke-width="1" fill="none"/>
<rect x="406.3" y="94.5" width="6.8" height="3.4" fill="#8f6078"/>
<path d="M418.8 88.2V92.4M418.8 97.9V99.8" stroke="#4c84bc" stroke-width=".9" fill="none"/>
<rect x="415.9" y="92.9" width="5.8" height="4.5" fill="none" stroke="#5490c4" stroke-width="1"/>
<path d="M427.8 85.0V90.0M427.8 92.4V92.7" stroke="#4c84bc" stroke-width=".9" fill="none"/>
<rect x="424.9" y="90.5" width="5.8" height="1.4" fill="none" stroke="#5490c4" stroke-width="1"/>
<path d="M436.9 72.2V78.3M436.9 90.0V91.6" stroke="#4c84bc" stroke-width=".9" fill="none"/>
<rect x="434.0" y="78.8" width="5.8" height="10.7" fill="none" stroke="#5490c4" stroke-width="1"/>
<path d="M445.9 77.6V95.9" stroke="#5e6ca4" stroke-width="1" fill="none"/>
<rect x="442.5" y="78.3" width="6.8" height="12.8" fill="#8f6078"/>
<path d="M455.0 80.6V83.4M455.0 91.1V99.5" stroke="#4c84bc" stroke-width=".9" fill="none"/>
<rect x="452.1" y="83.9" width="5.8" height="6.7" fill="none" stroke="#5490c4" stroke-width="1"/>
<path d="M464.1 79.9V88.9" stroke="#5e6ca4" stroke-width="1" fill="none"/>
<rect x="460.7" y="83.4" width="6.8" height="3.2" fill="#8f6078"/>
<path d="M473.1 80.3V112.0" stroke="#5e6ca4" stroke-width="1" fill="none"/>
<rect x="469.7" y="86.6" width="6.8" height="14.9" fill="#8f6078"/>
<path d="M482.2 97.3V134.8" stroke="#5e6ca4" stroke-width="1" fill="none"/>
<rect x="478.8" y="101.5" width="6.8" height="16.5" fill="#8f6078"/>
<path d="M491.2 108.1V109.0M491.2 118.0V127.2" stroke="#4c84bc" stroke-width=".9" fill="none"/>
<rect x="488.3" y="109.5" width="5.8" height="8.0" fill="none" stroke="#5490c4" stroke-width="1"/>
<path d="M500.3 102.8V126.5" stroke="#5e6ca4" stroke-width="1" fill="none"/>
<rect x="496.9" y="109.0" width="6.8" height="11.6" fill="#8f6078"/>
<path d="M509.3 115.7V118.5M509.3 120.7V130.0" stroke="#4c84bc" stroke-width=".9" fill="none"/>
<rect x="506.4" y="119.0" width="5.8" height="1.2" fill="none" stroke="#5490c4" stroke-width="1"/>
<path d="M518.4 115.0V139.9" stroke="#5e6ca4" stroke-width="1" fill="none"/>
<rect x="515.0" y="118.7" width="6.8" height="13.0" fill="#8f6078"/>
<path d="M527.4 117.0V120.3M527.4 131.6V134.1" stroke="#4c84bc" stroke-width=".9" fill="none"/>
<rect x="524.5" y="120.8" width="5.8" height="10.3" fill="none" stroke="#5490c4" stroke-width="1"/>
<path d="M536.5 110.1V118.3M536.5 120.5V140.3" stroke="#4c84bc" stroke-width=".9" fill="none"/>
<rect x="533.6" y="118.8" width="5.8" height="1.2" fill="none" stroke="#5490c4" stroke-width="1"/>
<path d="M545.5 110.3V112.7M545.5 118.5V122.3" stroke="#4c84bc" stroke-width=".9" fill="none"/>
<rect x="542.6" y="113.2" width="5.8" height="4.8" fill="none" stroke="#5490c4" stroke-width="1"/>
<path d="M554.6 108.9V116.4" stroke="#5e6ca4" stroke-width="1" fill="none"/>
<rect x="551.2" y="112.2" width="6.8" height="1.4" fill="#8f6078"/>
<path d="M563.6 100.9V103.1M563.6 113.0V115.0" stroke="#4c84bc" stroke-width=".9" fill="none"/>
<rect x="560.7" y="103.6" width="5.8" height="8.9" fill="none" stroke="#5490c4" stroke-width="1"/>
<path d="M572.7 101.2V108.5" stroke="#5e6ca4" stroke-width="1" fill="none"/>
<rect x="569.3" y="103.1" width="6.8" height="2.1" fill="#8f6078"/>
<path d="M581.7 101.8V119.6" stroke="#5e6ca4" stroke-width="1" fill="none"/>
<rect x="578.3" y="105.1" width="6.8" height="11.0" fill="#8f6078"/>
<path d="M590.8 110.9V114.5M590.8 116.7V123.8" stroke="#4c84bc" stroke-width=".9" fill="none"/>
<rect x="587.9" y="115.0" width="5.8" height="1.2" fill="none" stroke="#5490c4" stroke-width="1"/>
<path d="M599.8 113.4V121.2" stroke="#5e6ca4" stroke-width="1" fill="none"/>
<rect x="596.4" y="115.0" width="6.8" height="3.8" fill="#8f6078"/>
<path d="M608.9 118.0V125.9" stroke="#5e6ca4" stroke-width="1" fill="none"/>
<rect x="605.5" y="118.8" width="6.8" height="1.6" fill="#8f6078"/>
<path d="M618.0 115.7V123.9" stroke="#5e6ca4" stroke-width="1" fill="none"/>
<rect x="614.6" y="120.4" width="6.8" height="1.8" fill="#8f6078"/>
<path d="M627.0 116.4V118.3M627.0 122.1V129.1" stroke="#4c84bc" stroke-width=".9" fill="none"/>
<rect x="624.1" y="118.8" width="5.8" height="2.9" fill="none" stroke="#5490c4" stroke-width="1"/>
<path d="M636.1 113.8V142.4" stroke="#5e6ca4" stroke-width="1" fill="none"/>
<rect x="632.7" y="118.3" width="6.8" height="16.5" fill="#8f6078"/>
<path d="M645.1 133.9V147.2" stroke="#5e6ca4" stroke-width="1" fill="none"/>
<rect x="641.7" y="134.8" width="6.8" height="12.5" fill="#8f6078"/>
<path d="M654.2 140.3V143.1M654.2 146.7V154.1" stroke="#4c84bc" stroke-width=".9" fill="none"/>
<rect x="651.3" y="143.6" width="5.8" height="2.6" fill="none" stroke="#5490c4" stroke-width="1"/>
<path d="M663.2 121.0V123.4M663.2 143.1V144.4" stroke="#4c84bc" stroke-width=".9" fill="none"/>
<rect x="660.3" y="123.9" width="5.8" height="18.7" fill="none" stroke="#5490c4" stroke-width="1"/>
<path d="M672.3 114.8V118.2M672.3 123.4V125.1" stroke="#4c84bc" stroke-width=".9" fill="none"/>
<rect x="669.4" y="118.7" width="5.8" height="4.2" fill="none" stroke="#5490c4" stroke-width="1"/>
<path d="M681.3 114.3V116.7M681.3 118.9V123.7" stroke="#4c84bc" stroke-width=".9" fill="none"/>
<rect x="678.4" y="117.2" width="5.8" height="1.2" fill="none" stroke="#5490c4" stroke-width="1"/>
<path d="M690.4 109.9V124.3" stroke="#5e6ca4" stroke-width="1" fill="none"/>
<rect x="687.0" y="117.5" width="6.8" height="4.4" fill="#8f6078"/>
<path d="M699.4 115.4V126.6" stroke="#5e6ca4" stroke-width="1" fill="none"/>
<rect x="696.0" y="121.9" width="6.8" height="4.4" fill="#8f6078"/>
<path d="M708.5 122.6V133.6" stroke="#5e6ca4" stroke-width="1" fill="none"/>
<rect x="705.1" y="126.3" width="6.8" height="5.8" fill="#8f6078"/>
<path d="M717.5 120.5V122.4M717.5 132.1V135.0" stroke="#4c84bc" stroke-width=".9" fill="none"/>
<rect x="714.6" y="122.9" width="5.8" height="8.7" fill="none" stroke="#5490c4" stroke-width="1"/>
<path d="M726.6 120.3V137.3" stroke="#5e6ca4" stroke-width="1" fill="none"/>
<rect x="723.2" y="122.4" width="6.8" height="11.7" fill="#8f6078"/>
<path d="M735.6 130.4V132.9M735.6 135.1V135.7" stroke="#4c84bc" stroke-width=".9" fill="none"/>
<rect x="732.7" y="133.4" width="5.8" height="1.2" fill="none" stroke="#5490c4" stroke-width="1"/>
<path d="M744.7 128.5V130.6M744.7 134.0V135.1" stroke="#4c84bc" stroke-width=".9" fill="none"/>
<rect x="741.8" y="131.1" width="5.8" height="2.4" fill="none" stroke="#5490c4" stroke-width="1"/>
<path d="M753.7 120.4V123.1M753.7 130.6V134.4" stroke="#4c84bc" stroke-width=".9" fill="none"/>
<rect x="750.8" y="123.6" width="5.8" height="6.5" fill="none" stroke="#5490c4" stroke-width="1"/>
<path d="M762.8 122.1V132.3" stroke="#5e6ca4" stroke-width="1" fill="none"/>
<rect x="759.4" y="123.1" width="6.8" height="7.0" fill="#8f6078"/>
<path d="M771.9 105.0V106.2M771.9 130.1V131.4" stroke="#4c84bc" stroke-width=".9" fill="none"/>
<rect x="769.0" y="106.7" width="5.8" height="22.9" fill="none" stroke="#5490c4" stroke-width="1"/>
<path d="M780.9 103.4V114.5" stroke="#5e6ca4" stroke-width="1" fill="none"/>
<rect x="777.5" y="106.2" width="6.8" height="5.0" fill="#8f6078"/>
<path d="M790.0 99.8V102.0M790.0 111.2V111.9" stroke="#4c84bc" stroke-width=".9" fill="none"/>
<rect x="787.1" y="102.5" width="5.8" height="8.2" fill="none" stroke="#5490c4" stroke-width="1"/>
<path d="M799.0 100.1V104.2" stroke="#5e6ca4" stroke-width="1" fill="none"/>
<rect x="795.6" y="101.6" width="6.8" height="1.4" fill="#8f6078"/>
<path d="M808.1 98.5V108.0" stroke="#5e6ca4" stroke-width="1" fill="none"/>
<rect x="804.7" y="102.6" width="6.8" height="3.3" fill="#8f6078"/>
<path d="M817.1 78.8V79.2M817.1 105.9V107.0" stroke="#4c84bc" stroke-width=".9" fill="none"/>
<rect x="814.2" y="79.7" width="5.8" height="25.7" fill="none" stroke="#5490c4" stroke-width="1"/>
<path d="M826.2 76.5V91.0" stroke="#5e6ca4" stroke-width="1" fill="none"/>
<rect x="822.8" y="79.2" width="6.8" height="6.7" fill="#8f6078"/>
<path d="M835.2 83.2V92.6" stroke="#5e6ca4" stroke-width="1" fill="none"/>
<rect x="831.8" y="85.9" width="6.8" height="5.1" fill="#8f6078"/>
<path d="M844.3 86.2V105.7" stroke="#5e6ca4" stroke-width="1" fill="none"/>
<rect x="840.9" y="91.0" width="6.8" height="6.2" fill="#8f6078"/>
<path d="M853.3 90.5V94.1M853.3 97.1V104.2" stroke="#4c84bc" stroke-width=".9" fill="none"/>
<rect x="850.4" y="94.6" width="5.8" height="2.0" fill="none" stroke="#5490c4" stroke-width="1"/>
<path d="M862.4 88.7V90.3M862.4 94.1V94.4" stroke="#4c84bc" stroke-width=".9" fill="none"/>
<rect x="859.5" y="90.8" width="5.8" height="2.8" fill="none" stroke="#5490c4" stroke-width="1"/>
<path d="M871.4 88.9V96.3" stroke="#5e6ca4" stroke-width="1" fill="none"/>
<rect x="868.0" y="90.3" width="6.8" height="4.0" fill="#8f6078"/>
<path d="M880.5 83.1V89.6M880.5 94.4V95.7" stroke="#4c84bc" stroke-width=".9" fill="none"/>
<rect x="877.6" y="90.1" width="5.8" height="3.8" fill="none" stroke="#5490c4" stroke-width="1"/>
<path d="M889.5 88.8V100.7" stroke="#5e6ca4" stroke-width="1" fill="none"/>
<rect x="886.1" y="89.6" width="6.8" height="5.4" fill="#8f6078"/>
<path d="M898.6 92.2V101.5" stroke="#5e6ca4" stroke-width="1" fill="none"/>
<rect x="895.2" y="94.9" width="6.8" height="3.8" fill="#8f6078"/>
<path d="M907.7 89.2V95.2M907.7 98.8V101.5" stroke="#4c84bc" stroke-width=".9" fill="none"/>
<rect x="904.8" y="95.7" width="5.8" height="2.6" fill="none" stroke="#5490c4" stroke-width="1"/>
<path d="M916.7 91.7V103.8" stroke="#5e6ca4" stroke-width="1" fill="none"/>
<rect x="913.3" y="95.2" width="6.8" height="4.2" fill="#8f6078"/></g>
<rect x="645.5" y="48.0" width="271.5" height="144.5" fill="none" stroke="#6fcf86" stroke-width="1"/>
<g clip-path="url(#cpW)">
<polyline points="2.4,181.0 11.4,180.9 20.5,181.5 29.5,182.6 38.6,182.4 47.6,182.0 56.7,178.2 65.7,172.0 74.8,160.4 83.8,153.4 92.9,146.5 101.9,141.9 111.0,137.0 120.0,126.5 129.1,124.7 138.1,120.2 147.2,115.9 156.3,111.0 165.3,107.1 174.4,103.3 183.4,96.5 192.5,92.2 201.5,86.8 210.6,85.0 219.6,86.1 228.7,92.3 237.7,92.9 246.8,94.4 255.8,102.9 264.9,101.6 273.9,103.7 283.0,107.4 292.0,110.0 301.1,107.7 310.2,102.6 319.2,98.7 328.3,96.3 337.3,92.9 346.4,91.5 355.4,90.9 364.5,88.2 373.5,88.2 382.6,93.7 391.6,97.1 400.7,96.5 409.7,96.8 418.8,95.7 427.8,94.3 436.9,90.3 445.9,90.5 455.0,88.7 464.1,88.2 473.1,91.5 482.2,98.1 491.2,100.9 500.3,105.8 509.3,109.0 518.4,114.7 527.4,116.1 536.5,116.7 545.5,115.7 554.6,115.0 563.6,112.0 572.7,110.3 581.7,111.8 590.8,112.6 599.8,114.1 608.9,115.7 618.0,117.3 627.0,117.5 636.1,121.9 645.1,128.2 654.2,131.9 663.2,129.8 672.3,126.9 681.3,124.5 690.4,123.9 699.4,124.5 708.5,126.4 717.5,125.4 726.6,127.6 735.6,129.2 744.7,129.5 753.7,127.9 762.8,128.4 771.9,122.9 780.9,120.0 790.0,115.5 799.0,112.3 808.1,110.7 817.1,102.8 826.2,98.6 835.2,96.7 844.3,96.8 853.3,96.1 862.4,94.7 871.4,94.6 880.5,93.3 889.5,93.7 898.6,95.0 907.7,95.0 916.7,96.1 921.5,96.4" fill="none" stroke="#e9e9ec" stroke-width="0.8" stroke-linejoin="round"/>
</g>
<g clip-path="url(#cpP)">
<polyline points="2.4,181.0 11.4,180.9 20.5,181.5 29.5,182.6 38.6,182.4 47.6,182.0 56.7,178.2 65.7,172.0 74.8,160.4 83.8,153.4 92.9,146.5 101.9,141.9 111.0,137.0 120.0,126.5 129.1,124.7 138.1,120.2 147.2,115.9 156.3,111.0 165.3,107.1 174.4,103.3 183.4,96.5 192.5,92.2 201.5,86.8 210.6,85.0 219.6,86.1 228.7,92.3 237.7,92.9 246.8,94.4 255.8,102.9 264.9,101.6 273.9,103.7 283.0,107.4 292.0,110.0 301.1,107.7 310.2,102.6 319.2,98.7 328.3,96.3 337.3,92.9 346.4,91.5 355.4,90.9 364.5,88.2 373.5,88.2 382.6,93.7 391.6,97.1 400.7,96.5 409.7,96.8 418.8,95.7 427.8,94.3 436.9,90.3 445.9,90.5 455.0,88.7 464.1,88.2 473.1,91.5 482.2,98.1 491.2,100.9 500.3,105.8 509.3,109.0 518.4,114.7 527.4,116.1 536.5,116.7 545.5,115.7 554.6,115.0 563.6,112.0 572.7,110.3 581.7,111.8 590.8,112.6 599.8,114.1 608.9,115.7 618.0,117.3 627.0,117.5 636.1,121.9 645.1,128.2 654.2,131.9 663.2,129.8 672.3,126.9 681.3,124.5 690.4,123.9 699.4,124.5 708.5,126.4 717.5,125.4 726.6,127.6 735.6,129.2 744.7,129.5 753.7,127.9 762.8,128.4 771.9,122.9 780.9,120.0 790.0,115.5 799.0,112.3 808.1,110.7 817.1,102.8 826.2,98.6 835.2,96.7 844.3,96.8 853.3,96.1 862.4,94.7 871.4,94.6 880.5,93.3 889.5,93.7 898.6,95.0 907.7,95.0 916.7,96.1 921.5,96.4" fill="none" stroke="#d6bef2" stroke-width="0.8" stroke-linejoin="round"/>
</g>
<g clip-path="url(#cpW)">
<polyline points="2.4,190.4 11.4,189.1 20.5,188.3 29.5,188.0 38.6,187.1 47.6,186.3 56.7,183.7 65.7,179.7 74.8,172.5 83.8,167.1 92.9,161.6 101.9,157.1 111.0,152.5 120.0,144.8 129.1,141.4 138.1,136.8 147.2,132.3 156.3,127.5 165.3,123.2 174.4,119.1 183.4,113.3 192.5,108.8 201.5,103.7 210.6,100.5 219.6,99.0 228.7,100.6 237.7,99.8 246.8,99.7 255.8,103.5 264.9,102.7 273.9,103.7 283.0,105.7 292.0,107.3 301.1,106.5 310.2,103.9 319.2,101.6 328.3,100.0 337.3,97.7 346.4,96.3 355.4,95.3 364.5,93.3 373.5,92.6 382.6,95.0 391.6,96.6 400.7,96.3 409.7,96.5 418.8,96.0 427.8,95.2 436.9,92.9 445.9,92.7 455.0,91.4 464.1,90.8 473.1,92.2 482.2,95.7 491.2,97.4 500.3,100.5 509.3,103.0 518.4,106.8 527.4,108.6 536.5,109.9 545.5,110.3 554.6,110.6 563.6,109.6 572.7,109.0 581.7,110.0 590.8,110.7 599.8,111.7 608.9,112.9 618.0,114.1 627.0,114.7 636.1,117.4 645.1,121.3 654.2,124.2 663.2,124.1 672.3,123.3 681.3,122.6 690.4,122.5 699.4,123.0 708.5,124.2 717.5,123.9 726.6,125.3 735.6,126.5 744.7,127.0 753.7,126.5 762.8,127.0 771.9,124.2 780.9,122.5 790.0,119.7 799.0,117.4 808.1,115.9 817.1,111.0 826.2,107.7 835.2,105.4 844.3,104.3 853.3,103.0 862.4,101.3 871.4,100.4 880.5,98.9 889.5,98.4 898.6,98.4 907.7,98.0 916.7,98.2 921.5,98.2" fill="none" stroke="#3a3a42" stroke-width="0.85" stroke-linejoin="round"/>
</g>
<g clip-path="url(#cpP)">
<polyline points="2.4,190.4 11.4,189.1 20.5,188.3 29.5,188.0 38.6,187.1 47.6,186.3 56.7,183.7 65.7,179.7 74.8,172.5 83.8,167.1 92.9,161.6 101.9,157.1 111.0,152.5 120.0,144.8 129.1,141.4 138.1,136.8 147.2,132.3 156.3,127.5 165.3,123.2 174.4,119.1 183.4,113.3 192.5,108.8 201.5,103.7 210.6,100.5 219.6,99.0 228.7,100.6 237.7,99.8 246.8,99.7 255.8,103.5 264.9,102.7 273.9,103.7 283.0,105.7 292.0,107.3 301.1,106.5 310.2,103.9 319.2,101.6 328.3,100.0 337.3,97.7 346.4,96.3 355.4,95.3 364.5,93.3 373.5,92.6 382.6,95.0 391.6,96.6 400.7,96.3 409.7,96.5 418.8,96.0 427.8,95.2 436.9,92.9 445.9,92.7 455.0,91.4 464.1,90.8 473.1,92.2 482.2,95.7 491.2,97.4 500.3,100.5 509.3,103.0 518.4,106.8 527.4,108.6 536.5,109.9 545.5,110.3 554.6,110.6 563.6,109.6 572.7,109.0 581.7,110.0 590.8,110.7 599.8,111.7 608.9,112.9 618.0,114.1 627.0,114.7 636.1,117.4 645.1,121.3 654.2,124.2 663.2,124.1 672.3,123.3 681.3,122.6 690.4,122.5 699.4,123.0 708.5,124.2 717.5,123.9 726.6,125.3 735.6,126.5 744.7,127.0 753.7,126.5 762.8,127.0 771.9,124.2 780.9,122.5 790.0,119.7 799.0,117.4 808.1,115.9 817.1,111.0 826.2,107.7 835.2,105.4 844.3,104.3 853.3,103.0 862.4,101.3 871.4,100.4 880.5,98.9 889.5,98.4 898.6,98.4 907.7,98.0 916.7,98.2 921.5,98.2" fill="none" stroke="#54447e" stroke-width="0.8" stroke-linejoin="round"/>
</g>
<g clip-path="url(#cpB)">
<polyline points="2.4,190.4 11.4,189.1 20.5,188.3 29.5,188.0 38.6,187.1 47.6,186.3 56.7,183.7 65.7,179.7 74.8,172.5 83.8,167.1 92.9,161.6 101.9,157.1 111.0,152.5 120.0,144.8 129.1,141.4 138.1,136.8 147.2,132.3 156.3,127.5 165.3,123.2 174.4,119.1 183.4,113.3 192.5,108.8 201.5,103.7 210.6,100.5 219.6,99.0 228.7,100.6 237.7,99.8 246.8,99.7 255.8,103.5 264.9,102.7 273.9,103.7 283.0,105.7 292.0,107.3 301.1,106.5 310.2,103.9 319.2,101.6 328.3,100.0 337.3,97.7 346.4,96.3 355.4,95.3 364.5,93.3 373.5,92.6 382.6,95.0 391.6,96.6 400.7,96.3 409.7,96.5 418.8,96.0 427.8,95.2 436.9,92.9 445.9,92.7 455.0,91.4 464.1,90.8 473.1,92.2 482.2,95.7 491.2,97.4 500.3,100.5 509.3,103.0 518.4,106.8 527.4,108.6 536.5,109.9 545.5,110.3 554.6,110.6 563.6,109.6 572.7,109.0 581.7,110.0 590.8,110.7 599.8,111.7 608.9,112.9 618.0,114.1 627.0,114.7 636.1,117.4 645.1,121.3 654.2,124.2 663.2,124.1 672.3,123.3 681.3,122.6 690.4,122.5 699.4,123.0 708.5,124.2 717.5,123.9 726.6,125.3 735.6,126.5 744.7,127.0 753.7,126.5 762.8,127.0 771.9,124.2 780.9,122.5 790.0,119.7 799.0,117.4 808.1,115.9 817.1,111.0 826.2,107.7 835.2,105.4 844.3,104.3 853.3,103.0 862.4,101.3 871.4,100.4 880.5,98.9 889.5,98.4 898.6,98.4 907.7,98.0 916.7,98.2 921.5,98.2" fill="none" stroke="#3c64a8" stroke-width="0.8" stroke-linejoin="round"/>
</g>
<path d="M214.0 67.9L216.6 65.8V67.3H218.9V68.5H216.6V70.0Z" fill="#222"/>
<text x="222.2" y="71.3" font-size="8.8" fill="#222" textLength="36.0" lengthAdjust="spacingAndGlyphs" stroke="#222" stroke-width="0.12">73835.57</text>
<path d="M32.8 186.4L35.4 184.3V185.8H37.7V187.0H35.4V188.5Z" fill="#222"/>
<text x="40.7" y="189.5" font-size="8.8" fill="#222" textLength="35.7" lengthAdjust="spacingAndGlyphs" stroke="#222" stroke-width="0.12">50513.01</text>
<text x="948.0" y="14.3" font-size="8.8" fill="#85888f" textLength="37.1" lengthAdjust="spacingAndGlyphs" text-anchor="middle">85000.00</text>
<text x="948.0" y="39.8" font-size="8.8" fill="#85888f" textLength="37.1" lengthAdjust="spacingAndGlyphs" text-anchor="middle">80000.00</text>
<text x="948.0" y="65.3" font-size="8.8" fill="#85888f" textLength="37.1" lengthAdjust="spacingAndGlyphs" text-anchor="middle">75000.00</text>
<text x="948.0" y="90.8" font-size="8.8" fill="#85888f" textLength="37.1" lengthAdjust="spacingAndGlyphs" text-anchor="middle">70000.00</text>
<text x="948.0" y="116.3" font-size="8.8" fill="#85888f" textLength="37.1" lengthAdjust="spacingAndGlyphs" text-anchor="middle">65000.00</text>
<text x="948.0" y="141.8" font-size="8.8" fill="#85888f" textLength="37.1" lengthAdjust="spacingAndGlyphs" text-anchor="middle">60000.00</text>
<text x="948.0" y="167.3" font-size="8.8" fill="#85888f" textLength="37.1" lengthAdjust="spacingAndGlyphs" text-anchor="middle">55000.00</text>
<text x="948.0" y="192.8" font-size="8.8" fill="#85888f" textLength="37.1" lengthAdjust="spacingAndGlyphs" text-anchor="middle">50000.00</text>
<text x="948.0" y="218.3" font-size="8.8" fill="#85888f" textLength="37.1" lengthAdjust="spacingAndGlyphs" text-anchor="middle">45000.00</text>
<text x="948.0" y="243.8" font-size="8.8" fill="#85888f" textLength="37.1" lengthAdjust="spacingAndGlyphs" text-anchor="middle">40000.00</text>
<text x="948.0" y="269.3" font-size="8.8" fill="#85888f" textLength="37.1" lengthAdjust="spacingAndGlyphs" text-anchor="middle">35000.00</text>
<text x="948.0" y="294.8" font-size="8.8" fill="#85888f" textLength="37.1" lengthAdjust="spacingAndGlyphs" text-anchor="middle">30000.00</text>
<text x="948.0" y="320.3" font-size="8.8" fill="#85888f" textLength="37.1" lengthAdjust="spacingAndGlyphs" text-anchor="middle">25000.00</text>
<text x="948.0" y="345.8" font-size="8.8" fill="#85888f" textLength="37.1" lengthAdjust="spacingAndGlyphs" text-anchor="middle">20000.00</text>
<text x="948.0" y="374.2" font-size="8.8" fill="#85888f" textLength="26.8" lengthAdjust="spacingAndGlyphs" text-anchor="middle">60.00k</text>
<text x="948.0" y="399.4" font-size="8.8" fill="#85888f" textLength="26.8" lengthAdjust="spacingAndGlyphs" text-anchor="middle">40.00k</text>
<text x="948.0" y="423.8" font-size="8.8" fill="#85888f" textLength="26.8" lengthAdjust="spacingAndGlyphs" text-anchor="middle">20.00k</text>
<rect x="921.9" y="91" width="51.8" height="14.3" fill="#3b9e14"/>
<rect x="922.3" y="98.2" width="3.2" height="0.9" fill="#e8f5d8"/>
<text x="947.3" y="102.0" font-size="8.8" fill="#f4ffe0" textLength="36.6" lengthAdjust="spacingAndGlyphs" text-anchor="middle" stroke="#f4ffe0" stroke-width=".35">67756.71</text>
<rect x="-0.5" y="425.7" width="5.8" height="19.2" fill="#fff" stroke="#3cc4a0" stroke-width="1"/>
<rect x="8.0" y="428.3" width="6.8" height="17.1" fill="#e8424e"/>
<rect x="17.1" y="429.2" width="6.8" height="16.2" fill="#e8424e"/>
<rect x="26.1" y="430.7" width="6.8" height="14.7" fill="#e8424e"/>
<rect x="35.7" y="441.3" width="5.8" height="3.6" fill="#fff" stroke="#3cc4a0" stroke-width="1"/>
<rect x="44.7" y="441.3" width="5.8" height="3.6" fill="#fff" stroke="#3cc4a0" stroke-width="1"/>
<rect x="53.8" y="417.8" width="5.8" height="27.1" fill="#fff" stroke="#3cc4a0" stroke-width="1"/>
<rect x="62.8" y="409.7" width="5.8" height="35.2" fill="#fff" stroke="#3cc4a0" stroke-width="1"/>
<rect x="71.9" y="385.7" width="5.8" height="59.2" fill="#fff" stroke="#3cc4a0" stroke-width="1"/>
<rect x="80.4" y="399.1" width="6.8" height="46.3" fill="#e8424e"/>
<rect x="90.0" y="415.0" width="5.8" height="29.9" fill="#fff" stroke="#3cc4a0" stroke-width="1"/>
<rect x="98.5" y="436.2" width="6.8" height="9.2" fill="#e8424e"/>
<rect x="108.1" y="437.1" width="5.8" height="7.8" fill="#fff" stroke="#3cc4a0" stroke-width="1"/>
<rect x="117.1" y="395.0" width="5.8" height="49.9" fill="#fff" stroke="#3cc4a0" stroke-width="1"/>
<rect x="125.7" y="363.3" width="6.8" height="82.1" fill="#e8424e"/>
<rect x="135.2" y="403.1" width="5.8" height="41.8" fill="#fff" stroke="#3cc4a0" stroke-width="1"/>
<rect x="144.3" y="418.3" width="5.8" height="26.6" fill="#fff" stroke="#3cc4a0" stroke-width="1"/>
<rect x="153.4" y="403.7" width="5.8" height="41.2" fill="#fff" stroke="#3cc4a0" stroke-width="1"/>
<rect x="162.4" y="434.9" width="5.8" height="10.0" fill="#fff" stroke="#3cc4a0" stroke-width="1"/>
<rect x="171.5" y="430.8" width="5.8" height="14.1" fill="#fff" stroke="#3cc4a0" stroke-width="1"/>
<rect x="180.5" y="405.5" width="5.8" height="39.4" fill="#fff" stroke="#3cc4a0" stroke-width="1"/>
<rect x="189.1" y="409.0" width="6.8" height="36.4" fill="#e8424e"/>
<rect x="198.6" y="418.9" width="5.8" height="26.0" fill="#fff" stroke="#3cc4a0" stroke-width="1"/>
<rect x="207.2" y="402.8" width="6.8" height="42.6" fill="#e8424e"/>
<rect x="216.2" y="395.3" width="6.8" height="50.1" fill="#e8424e"/>
<rect x="225.3" y="424.1" width="6.8" height="21.3" fill="#e8424e"/>
<rect x="234.8" y="429.9" width="5.8" height="15.0" fill="#fff" stroke="#3cc4a0" stroke-width="1"/>
<rect x="243.4" y="420.1" width="6.8" height="25.3" fill="#e8424e"/>
<rect x="252.4" y="395.3" width="6.8" height="50.1" fill="#e8424e"/>
<rect x="262.0" y="397.0" width="5.8" height="47.9" fill="#fff" stroke="#3cc4a0" stroke-width="1"/>
<rect x="270.5" y="422.1" width="6.8" height="23.3" fill="#e8424e"/>
<rect x="279.6" y="422.8" width="6.8" height="22.6" fill="#e8424e"/>
<rect x="289.1" y="436.7" width="5.8" height="8.2" fill="#fff" stroke="#3cc4a0" stroke-width="1"/>
<rect x="298.2" y="437.6" width="5.8" height="7.3" fill="#fff" stroke="#3cc4a0" stroke-width="1"/>
<rect x="307.3" y="418.2" width="5.8" height="26.7" fill="#fff" stroke="#3cc4a0" stroke-width="1"/>
<rect x="316.3" y="426.2" width="5.8" height="18.7" fill="#fff" stroke="#3cc4a0" stroke-width="1"/>
<rect x="324.9" y="422.1" width="6.8" height="23.3" fill="#e8424e"/>
<rect x="334.4" y="426.6" width="5.8" height="18.3" fill="#fff" stroke="#3cc4a0" stroke-width="1"/>
<rect x="343.0" y="436.2" width="6.8" height="9.2" fill="#e8424e"/>
<rect x="352.0" y="441.2" width="6.8" height="4.2" fill="#e8424e"/>
<rect x="361.6" y="440.8" width="5.8" height="4.1" fill="#fff" stroke="#3cc4a0" stroke-width="1"/>
<rect x="370.1" y="428.1" width="6.8" height="17.3" fill="#e8424e"/>
<rect x="379.2" y="416.2" width="6.8" height="29.2" fill="#e8424e"/>
<rect x="388.7" y="428.1" width="5.8" height="16.8" fill="#fff" stroke="#3cc4a0" stroke-width="1"/>
<rect x="397.8" y="422.9" width="5.8" height="22.0" fill="#fff" stroke="#3cc4a0" stroke-width="1"/>
<rect x="406.3" y="426.1" width="6.8" height="19.3" fill="#e8424e"/>
<rect x="415.9" y="440.8" width="5.8" height="4.1" fill="#fff" stroke="#3cc4a0" stroke-width="1"/>
<rect x="424.9" y="438.2" width="5.8" height="6.7" fill="#fff" stroke="#3cc4a0" stroke-width="1"/>
<rect x="434.0" y="424.8" width="5.8" height="20.1" fill="#fff" stroke="#3cc4a0" stroke-width="1"/>
<rect x="442.5" y="426.5" width="6.8" height="18.9" fill="#e8424e"/>
<rect x="452.1" y="424.8" width="5.8" height="20.1" fill="#fff" stroke="#3cc4a0" stroke-width="1"/>
<rect x="460.7" y="432.0" width="6.8" height="13.4" fill="#e8424e"/>
<rect x="469.7" y="416.2" width="6.8" height="29.2" fill="#e8424e"/>
<rect x="478.8" y="411.1" width="6.8" height="34.3" fill="#e8424e"/>
<rect x="488.3" y="418.9" width="5.8" height="26.0" fill="#fff" stroke="#3cc4a0" stroke-width="1"/>
<rect x="496.9" y="418.8" width="6.8" height="26.6" fill="#e8424e"/>
<rect x="506.4" y="423.9" width="5.8" height="21.0" fill="#fff" stroke="#3cc4a0" stroke-width="1"/>
<rect x="515.0" y="418.0" width="6.8" height="27.4" fill="#e8424e"/>
<rect x="524.5" y="426.2" width="5.8" height="18.7" fill="#fff" stroke="#3cc4a0" stroke-width="1"/>
<rect x="533.6" y="417.6" width="5.8" height="27.3" fill="#fff" stroke="#3cc4a0" stroke-width="1"/>
<rect x="542.6" y="439.1" width="5.8" height="5.8" fill="#fff" stroke="#3cc4a0" stroke-width="1"/>
<rect x="551.2" y="439.3" width="6.8" height="6.1" fill="#e8424e"/>
<rect x="560.7" y="432.7" width="5.8" height="12.2" fill="#fff" stroke="#3cc4a0" stroke-width="1"/>
<rect x="569.3" y="434.0" width="6.8" height="11.4" fill="#e8424e"/>
<rect x="578.3" y="426.5" width="6.8" height="18.9" fill="#e8424e"/>
<rect x="587.9" y="429.4" width="5.8" height="15.5" fill="#fff" stroke="#3cc4a0" stroke-width="1"/>
<rect x="596.4" y="432.5" width="6.8" height="12.9" fill="#e8424e"/>
<rect x="605.5" y="438.6" width="6.8" height="6.8" fill="#e8424e"/>
<rect x="614.6" y="440.1" width="6.8" height="5.3" fill="#e8424e"/>
<rect x="624.1" y="432.5" width="5.8" height="12.4" fill="#fff" stroke="#3cc4a0" stroke-width="1"/>
<rect x="632.7" y="419.1" width="6.8" height="26.3" fill="#e8424e"/>
<rect x="641.7" y="411.8" width="6.8" height="33.6" fill="#e8424e"/>
<rect x="651.3" y="428.8" width="5.8" height="16.1" fill="#fff" stroke="#3cc4a0" stroke-width="1"/>
<rect x="660.3" y="425.9" width="5.8" height="19.0" fill="#fff" stroke="#3cc4a0" stroke-width="1"/>
<rect x="669.4" y="438.0" width="5.8" height="6.9" fill="#fff" stroke="#3cc4a0" stroke-width="1"/>
<rect x="678.4" y="439.8" width="5.8" height="5.1" fill="#fff" stroke="#3cc4a0" stroke-width="1"/>
<rect x="687.0" y="430.7" width="6.8" height="14.7" fill="#e8424e"/>
<rect x="696.0" y="433.8" width="6.8" height="11.6" fill="#e8424e"/>
<rect x="705.1" y="435.7" width="6.8" height="9.7" fill="#e8424e"/>
<rect x="714.6" y="435.4" width="5.8" height="9.5" fill="#fff" stroke="#3cc4a0" stroke-width="1"/>
<rect x="723.2" y="431.1" width="6.8" height="14.3" fill="#e8424e"/>
<rect x="732.7" y="442.8" width="5.8" height="2.1" fill="#fff" stroke="#3cc4a0" stroke-width="1"/>
<rect x="741.8" y="441.9" width="5.8" height="3.0" fill="#fff" stroke="#3cc4a0" stroke-width="1"/>
<rect x="750.8" y="434.7" width="5.8" height="10.2" fill="#fff" stroke="#3cc4a0" stroke-width="1"/>
<rect x="759.4" y="428.1" width="6.8" height="17.3" fill="#e8424e"/>
<rect x="769.0" y="418.3" width="5.8" height="26.6" fill="#fff" stroke="#3cc4a0" stroke-width="1"/>
<rect x="777.5" y="430.5" width="6.8" height="14.9" fill="#e8424e"/>
<rect x="787.1" y="430.8" width="5.8" height="14.1" fill="#fff" stroke="#3cc4a0" stroke-width="1"/>
<rect x="795.6" y="440.1" width="6.8" height="5.3" fill="#e8424e"/>
<rect x="804.7" y="440.8" width="6.8" height="4.6" fill="#e8424e"/>
<rect x="814.2" y="420.7" width="5.8" height="24.2" fill="#fff" stroke="#3cc4a0" stroke-width="1"/>
<rect x="822.8" y="425.2" width="6.8" height="20.2" fill="#e8424e"/>
<rect x="831.8" y="432.2" width="6.8" height="13.2" fill="#e8424e"/>
<rect x="840.9" y="427.4" width="6.8" height="18.0" fill="#e8424e"/>
<rect x="850.4" y="433.0" width="5.8" height="11.9" fill="#fff" stroke="#3cc4a0" stroke-width="1"/>
<rect x="859.5" y="442.8" width="5.8" height="2.1" fill="#fff" stroke="#3cc4a0" stroke-width="1"/>
<rect x="868.0" y="443.0" width="6.8" height="2.4" fill="#e8424e"/>
<rect x="877.6" y="438.9" width="5.8" height="6.0" fill="#fff" stroke="#3cc4a0" stroke-width="1"/>
<rect x="886.1" y="430.3" width="6.8" height="15.1" fill="#e8424e"/>
<rect x="895.2" y="434.0" width="6.8" height="11.4" fill="#e8424e"/>
<rect x="904.8" y="430.8" width="5.8" height="14.1" fill="#fff" stroke="#3cc4a0" stroke-width="1"/>
<rect x="913.3" y="432.0" width="6.8" height="13.4" fill="#e8424e"/>
<g clip-path="url(#cpV)">
<defs><clipPath id="cpV"><rect x="0" y="340" width="921.8" height="120"/></clipPath></defs>
<path d="M2.4 434.4C3.9 434.4 8.4 434.6 11.4 434.4C14.4 434.2 17.4 433.7 20.5 433.1C23.5 432.5 26.5 431.1 29.5 430.7C32.5 430.3 35.5 430.3 38.6 430.8C41.6 431.4 44.6 433.8 47.6 434.0C50.6 434.1 53.7 432.8 56.7 431.8C59.7 430.7 62.7 429.9 65.7 427.8C68.7 425.6 71.8 421.6 74.8 418.7C77.8 415.8 80.8 412.6 83.8 410.3C86.8 408.1 89.9 405.3 92.9 405.1C95.9 404.8 98.9 407.3 101.9 408.8C105.0 410.4 108.0 413.1 111.0 414.3C114.0 415.5 117.0 417.1 120.0 416.2C123.1 415.3 126.1 410.6 129.1 409.0C132.1 407.4 135.1 407.6 138.1 406.6C141.2 405.6 144.2 404.7 147.2 403.0C150.2 401.2 153.2 396.1 156.3 396.3C159.3 396.5 162.3 400.7 165.3 404.3C168.3 407.8 171.3 415.3 174.4 417.7C177.4 420.0 180.4 418.4 183.4 418.1C186.4 417.9 189.4 416.2 192.5 416.4C195.5 416.6 198.5 420.0 201.5 419.4C204.5 418.9 207.6 415.3 210.6 413.1C213.6 410.9 216.6 406.6 219.6 406.1C222.6 405.6 225.7 408.6 228.7 409.9C231.7 411.2 234.7 413.3 237.7 414.0C240.7 414.7 243.8 414.5 246.8 414.3C249.8 414.1 252.8 413.0 255.8 412.8C258.9 412.6 261.9 413.1 264.9 413.1C267.9 413.1 270.9 413.0 273.9 412.7C277.0 412.4 280.0 411.0 283.0 411.4C286.0 411.7 289.0 412.6 292.0 414.6C295.1 416.5 298.1 420.8 301.1 422.9C304.1 425.0 307.1 426.4 310.2 427.2C313.2 428.0 316.2 427.8 319.2 427.9C322.2 428.0 325.2 428.1 328.3 427.8C331.3 427.4 334.3 426.1 337.3 425.7C340.3 425.4 343.3 424.8 346.4 425.6C349.4 426.3 352.4 429.0 355.4 430.3C358.4 431.5 361.5 432.5 364.5 433.2C367.5 433.9 370.5 434.5 373.5 434.4C376.5 434.2 379.6 433.0 382.6 432.4C385.6 431.8 388.6 431.6 391.6 430.7C394.6 429.8 397.7 428.0 400.7 426.9C403.7 425.8 406.7 424.1 409.7 424.1C412.8 424.0 415.8 425.4 418.8 426.5C421.8 427.6 424.8 430.2 427.8 430.8C430.9 431.4 433.9 430.1 436.9 430.2C439.9 430.2 442.9 430.9 445.9 431.0C449.0 431.1 452.0 431.0 455.0 430.6C458.0 430.3 461.0 430.0 464.1 429.0C467.1 428.0 470.1 425.8 473.1 424.7C476.1 423.5 479.1 422.7 482.2 422.0C485.2 421.3 488.2 420.9 491.2 420.4C494.2 419.9 497.2 419.8 500.3 419.3C503.3 418.8 506.3 417.8 509.3 417.6C512.3 417.4 515.4 417.4 518.4 417.9C521.4 418.5 524.4 420.4 527.4 420.9C530.4 421.3 533.5 420.0 536.5 420.6C539.5 421.2 542.5 423.4 545.5 424.6C548.5 425.8 551.6 426.7 554.6 427.7C557.6 428.7 560.6 429.8 563.6 430.6C566.7 431.3 569.7 431.6 572.7 432.2C575.7 432.8 578.7 434.1 581.7 434.1C584.8 434.1 587.8 432.7 590.8 432.2C593.8 431.6 596.8 430.8 599.8 430.8C602.9 430.8 605.9 431.7 608.9 432.1C611.9 432.5 614.9 432.9 618.0 433.3C621.0 433.7 624.0 434.6 627.0 434.4C630.0 434.3 633.0 433.5 636.1 432.5C639.1 431.4 642.1 429.4 645.1 428.3C648.1 427.3 651.1 427.1 654.2 426.3C657.2 425.4 660.2 423.6 663.2 423.3C666.2 423.0 669.3 423.6 672.3 424.4C675.3 425.3 678.3 427.2 681.3 428.5C684.3 429.8 687.4 431.4 690.4 432.2C693.4 433.1 696.4 432.8 699.4 433.3C702.4 433.9 705.5 435.1 708.5 435.4C711.5 435.7 714.5 435.2 717.5 434.9C720.6 434.5 723.6 433.1 726.6 433.2C729.6 433.4 732.6 434.9 735.6 435.6C738.7 436.2 741.7 436.9 744.7 437.1C747.7 437.3 750.7 437.1 753.7 436.8C756.8 436.5 759.8 436.1 762.8 435.4C765.8 434.7 768.8 433.6 771.9 432.8C774.9 431.9 777.9 431.2 780.9 430.4C783.9 429.6 786.9 428.4 790.0 428.2C793.0 428.0 796.0 428.7 799.0 429.4C802.0 430.0 805.0 431.4 808.1 431.9C811.1 432.4 814.1 432.5 817.1 432.4C820.1 432.3 823.2 431.4 826.2 431.3C829.2 431.2 832.2 432.1 835.2 431.7C838.2 431.3 841.3 429.9 844.3 429.2C847.3 428.5 850.3 427.0 853.3 427.5C856.3 428.0 859.4 430.6 862.4 431.9C865.4 433.2 868.4 434.7 871.4 435.5C874.5 436.3 877.5 436.4 880.5 436.7C883.5 437.0 886.5 437.2 889.5 437.3C892.6 437.4 895.6 437.9 898.6 437.6C901.6 437.2 904.6 436.0 907.7 435.2C910.7 434.4 913.7 433.4 916.7 433.0C919.7 432.6 922.7 432.5 925.8 433.0C928.8 433.5 933.3 435.4 934.8 435.9" fill="none" stroke="#3cc9a5" stroke-width="0.9"/>
<path d="M2.4 431.6C3.9 431.5 8.4 431.4 11.4 431.3C14.4 431.2 17.4 430.8 20.5 430.9C23.5 431.0 26.5 431.4 29.5 431.8C32.5 432.2 35.5 432.9 38.6 433.3C41.6 433.7 44.6 434.2 47.6 434.2C50.6 434.1 53.7 433.7 56.7 433.1C59.7 432.5 62.7 431.8 65.7 430.4C68.7 429.0 71.8 426.3 74.8 424.7C77.8 423.0 80.8 421.4 83.8 420.6C86.8 419.7 89.9 419.6 92.9 419.5C95.9 419.5 98.9 420.0 101.9 420.3C105.0 420.6 108.0 421.5 111.0 421.0C114.0 420.6 117.0 419.3 120.0 417.4C123.1 415.5 126.1 411.6 129.1 409.7C132.1 407.7 135.1 406.5 138.1 405.8C141.2 405.2 144.2 406.0 147.2 405.9C150.2 405.8 153.2 404.6 156.3 405.3C159.3 406.0 162.3 408.9 165.3 410.2C168.3 411.6 171.3 413.0 174.4 413.3C177.4 413.7 180.4 413.0 183.4 412.4C186.4 411.8 189.4 410.4 192.5 409.7C195.5 408.9 198.5 408.0 201.5 407.8C204.5 407.7 207.6 408.0 210.6 408.7C213.6 409.4 216.6 411.0 219.6 411.9C222.6 412.8 225.7 413.5 228.7 414.0C231.7 414.6 234.7 414.7 237.7 415.2C240.7 415.7 243.8 417.2 246.8 416.9C249.8 416.5 252.8 414.2 255.8 413.0C258.9 411.8 261.9 409.9 264.9 409.6C267.9 409.3 270.9 410.8 273.9 411.3C277.0 411.8 280.0 412.2 283.0 412.7C286.0 413.2 289.0 413.6 292.0 414.5C295.1 415.3 298.1 416.9 301.1 417.9C304.1 418.8 307.1 419.7 310.2 420.1C313.2 420.5 316.2 420.4 319.2 420.3C322.2 420.2 325.2 419.6 328.3 419.6C331.3 419.5 334.3 419.4 337.3 420.2C340.3 420.9 343.3 422.8 346.4 424.2C349.4 425.7 352.4 427.7 355.4 428.7C358.4 429.8 361.5 430.1 364.5 430.5C367.5 430.9 370.5 431.3 373.5 431.1C376.5 430.8 379.6 429.6 382.6 429.1C385.6 428.6 388.6 428.2 391.6 428.1C394.6 428.0 397.7 428.5 400.7 428.6C403.7 428.7 406.7 428.3 409.7 428.6C412.8 428.9 415.8 430.0 418.8 430.4C421.8 430.9 424.8 431.6 427.8 431.6C430.9 431.6 433.9 430.9 436.9 430.4C439.9 430.0 442.9 429.5 445.9 428.9C449.0 428.4 452.0 427.6 455.0 427.3C458.0 427.1 461.0 427.7 464.1 427.7C467.1 427.8 470.1 428.0 473.1 427.7C476.1 427.5 479.1 426.4 482.2 426.1C485.2 425.7 488.2 425.9 491.2 425.7C494.2 425.5 497.2 425.4 500.3 425.0C503.3 424.6 506.3 423.9 509.3 423.3C512.3 422.7 515.4 421.6 518.4 421.3C521.4 421.0 524.4 421.6 527.4 421.4C530.4 421.3 533.5 420.4 536.5 420.5C539.5 420.6 542.5 421.6 545.5 421.9C548.5 422.3 551.6 422.3 554.6 422.7C557.6 423.0 560.6 423.6 563.6 424.3C566.7 424.9 569.7 426.0 572.7 426.5C575.7 427.1 578.7 427.1 581.7 427.4C584.8 427.7 587.8 428.1 590.8 428.4C593.8 428.7 596.8 428.8 599.8 429.3C602.9 429.8 605.9 430.8 608.9 431.3C611.9 431.9 614.9 432.3 618.0 432.8C621.0 433.3 624.0 434.3 627.0 434.3C630.0 434.2 633.0 433.1 636.1 432.3C639.1 431.5 642.1 430.1 645.1 429.6C648.1 429.0 651.1 429.4 654.2 429.2C657.2 429.0 660.2 428.3 663.2 428.3C666.2 428.4 669.3 429.1 672.3 429.4C675.3 429.8 678.3 430.3 681.3 430.5C684.3 430.6 687.4 430.4 690.4 430.3C693.4 430.2 696.4 430.0 699.4 429.8C702.4 429.6 705.5 429.4 708.5 429.4C711.5 429.3 714.5 429.4 717.5 429.6C720.6 429.9 723.6 430.1 726.6 430.8C729.6 431.6 732.6 433.2 735.6 433.9C738.7 434.6 741.7 434.8 744.7 435.2C747.7 435.6 750.7 436.1 753.7 436.1C756.8 436.1 759.8 435.7 762.8 435.1C765.8 434.6 768.8 433.4 771.9 433.0C774.9 432.6 777.9 433.0 780.9 433.0C783.9 432.9 786.9 432.6 790.0 432.6C793.0 432.6 796.0 432.9 799.0 433.1C802.0 433.2 805.0 433.7 808.1 433.7C811.1 433.6 814.1 433.0 817.1 432.6C820.1 432.1 823.2 431.3 826.2 430.9C829.2 430.4 832.2 430.2 835.2 429.9C838.2 429.7 841.3 429.3 844.3 429.3C847.3 429.2 850.3 429.2 853.3 429.7C856.3 430.2 859.4 431.5 862.4 432.1C865.4 432.8 868.4 433.1 871.4 433.4C874.5 433.7 877.5 434.2 880.5 434.2C883.5 434.2 886.5 433.5 889.5 433.2C892.6 433.0 895.6 432.5 898.6 432.5C901.6 432.6 904.6 433.3 907.7 433.6C910.7 433.8 913.7 434.0 916.7 434.2C919.7 434.5 922.7 434.5 925.8 434.9C928.8 435.3 933.3 436.3 934.8 436.6" fill="none" stroke="#f5b324" stroke-width="0.9"/>
</g>
<rect x="921.8" y="437" width="51.2" height="11.4" fill="#f0ac48"/>
<rect x="922.3" y="444" width="3.4" height="0.9" fill="#fff4d8"/>
<text x="947.9" y="447.9" font-size="8.8" fill="#fff6cc" textLength="14.4" lengthAdjust="spacingAndGlyphs" text-anchor="middle">600</text>
<rect x="974.1" y="437" width="1.9" height="36" fill="#000"/>
<text x="83.4" y="461.2" font-size="8.8" fill="#85888f" textLength="25.6" lengthAdjust="spacingAndGlyphs" text-anchor="middle">2月 29</text>
<text x="146.8" y="461.2" font-size="8.8" fill="#85888f" textLength="20.6" lengthAdjust="spacingAndGlyphs" text-anchor="middle">3月 7</text>
<text x="210.2" y="461.2" font-size="8.8" fill="#85888f" textLength="25.6" lengthAdjust="spacingAndGlyphs" text-anchor="middle">3月 14</text>
<text x="273.5" y="461.2" font-size="8.8" fill="#85888f" textLength="25.6" lengthAdjust="spacingAndGlyphs" text-anchor="middle">3月 21</text>
<text x="336.9" y="461.2" font-size="8.8" fill="#85888f" textLength="25.6" lengthAdjust="spacingAndGlyphs" text-anchor="middle">3月 28</text>
<text x="400.3" y="461.2" font-size="8.8" fill="#85888f" textLength="20.6" lengthAdjust="spacingAndGlyphs" text-anchor="middle">4月 4</text>
<text x="463.7" y="461.2" font-size="8.8" fill="#85888f" textLength="25.6" lengthAdjust="spacingAndGlyphs" text-anchor="middle">4月 11</text>
<text x="527.0" y="461.2" font-size="8.8" fill="#85888f" textLength="25.6" lengthAdjust="spacingAndGlyphs" text-anchor="middle">4月 18</text>
<text x="590.4" y="461.2" font-size="8.8" fill="#85888f" textLength="25.6" lengthAdjust="spacingAndGlyphs" text-anchor="middle">4月 25</text>
<text x="653.8" y="461.2" font-size="8.8" fill="#85888f" textLength="20.6" lengthAdjust="spacingAndGlyphs" text-anchor="middle">5月 2</text>
<text x="717.1" y="461.2" font-size="8.8" fill="#85888f" textLength="20.6" lengthAdjust="spacingAndGlyphs" text-anchor="middle">5月 9</text>
<text x="780.5" y="461.2" font-size="8.8" fill="#85888f" textLength="25.6" lengthAdjust="spacingAndGlyphs" text-anchor="middle">5月 16</text>
<text x="843.9" y="461.2" font-size="8.8" fill="#85888f" textLength="25.6" lengthAdjust="spacingAndGlyphs" text-anchor="middle">5月 23</text>
<text x="907.3" y="461.2" font-size="8.8" fill="#85888f" textLength="25.6" lengthAdjust="spacingAndGlyphs" text-anchor="middle">5月 30</text>
<text x="946.3" y="461.6" font-size="8.8" fill="#6a6d75" textLength="8.8" lengthAdjust="spacingAndGlyphs">筹</text>
<text x="961.7" y="461.6" font-size="8.8" fill="#6a6d75" textLength="8.8" lengthAdjust="spacingAndGlyphs">爆</text>
<circle cx="10.85" cy="4.15" r="5.2" fill="none" stroke="#8e9199" stroke-width=".9"/>
<path d="M7.95 2.85L10.85 5.65L13.75 2.85" fill="none" stroke="#8e9199" stroke-width=".9"/>
<circle cx="10.85" cy="17.9" r="5.2" fill="none" stroke="#8e9199" stroke-width=".9"/>
<path d="M7.95 16.60L10.85 19.40L13.75 16.60" fill="none" stroke="#8e9199" stroke-width=".9"/>
<text x="21.9" y="7.6" font-size="8.8" fill="#85888f" textLength="69.8" lengthAdjust="spacingAndGlyphs">2024-06-02 08:00</text>
<text x="98.0" y="7.6" font-size="8.4" fill="#85888f" textLength="8.2" lengthAdjust="spacingAndGlyphs">开</text>
<text x="109.4" y="7.6" font-size="8.8" fill="#1bb587" textLength="36.1" lengthAdjust="spacingAndGlyphs" stroke="#1bb587" stroke-width="0.14">67719.29</text>
<text x="152.0" y="7.6" font-size="8.4" fill="#85888f" textLength="8.2" lengthAdjust="spacingAndGlyphs">高</text>
<text x="163.0" y="7.6" font-size="8.8" fill="#1bb587" textLength="36.1" lengthAdjust="spacingAndGlyphs" stroke="#1bb587" stroke-width="0.14">67868.63</text>
<text x="205.0" y="7.6" font-size="8.4" fill="#85888f" textLength="8.2" lengthAdjust="spacingAndGlyphs">低</text>
<text x="216.4" y="7.6" font-size="8.8" fill="#1bb587" textLength="36.3" lengthAdjust="spacingAndGlyphs" stroke="#1bb587" stroke-width="0.14">67586.59</text>
<text x="258.4" y="7.6" font-size="8.4" fill="#85888f" textLength="8.2" lengthAdjust="spacingAndGlyphs">收</text>
<text x="269.8" y="7.6" font-size="8.8" fill="#1bb587" textLength="35.7" lengthAdjust="spacingAndGlyphs" stroke="#1bb587" stroke-width="0.14">67756.71</text>
<text x="312.0" y="7.6" font-size="8.4" fill="#85888f" textLength="16.6" lengthAdjust="spacingAndGlyphs">涨幅</text>
<text x="332.2" y="7.6" font-size="8.8" fill="#1bb587" textLength="52.8" lengthAdjust="spacingAndGlyphs" stroke="#1bb587" stroke-width="0.14">0.06%(37.42)</text>
<text x="391.0" y="7.6" font-size="8.4" fill="#85888f" textLength="16.4" lengthAdjust="spacingAndGlyphs">振幅</text>
<text x="411.1" y="7.6" font-size="8.8" fill="#1bb587" textLength="24.4" lengthAdjust="spacingAndGlyphs" stroke="#1bb587" stroke-width="0.14">0.42%</text>
<path d="M21.3 19.6h9.2M22.700 19.6c.8-.8.700-1.800.700-3.200a2.500 2.800 0 0 1 5 0c0 1.400-.1 2.400.700 3.200M24.600 20.600a1.300 1.100 0 0 0 2.600 0" fill="none" stroke="#8e9199" stroke-width=".9"/>
<text x="31.2" y="20.8" font-size="8.8" fill="#85888f" textLength="19.5" lengthAdjust="spacingAndGlyphs">EMA</text>
<text x="59.0" y="20.8" font-size="8.8" fill="#dcdde2" textLength="66.6" lengthAdjust="spacingAndGlyphs">EMA(7):67953.36</text>
<text x="131.8" y="20.8" font-size="8.8" fill="#3a3a40" textLength="72.0" lengthAdjust="spacingAndGlyphs" stroke="#3a3a40" stroke-width="0.15">EMA(14):67731.83</text>
<text x="209.9" y="20.8" font-size="8.8" fill="#dc48b0" textLength="71.7" lengthAdjust="spacingAndGlyphs" stroke="#dc48b0" stroke-width="0.15">EMA(30):66721.63</text>
<text x="288.1" y="20.8" font-size="8.8" fill="#5cb6e4" textLength="72.0" lengthAdjust="spacingAndGlyphs" stroke="#5cb6e4" stroke-width="0.15">EMA(60):65385.20</text>
<text x="366.2" y="20.8" font-size="8.8" fill="#dcb838" textLength="76.5" lengthAdjust="spacingAndGlyphs" stroke="#dcb838" stroke-width="0.15">EMA(200):55765.88</text>
<text x="448.9" y="20.8" font-size="8.8" fill="#e04c4c" textLength="77.1" lengthAdjust="spacingAndGlyphs" stroke="#e04c4c" stroke-width="0.15">EMA(365):46807.37</text>
<text x="9.8" y="358.8" font-size="8.8" fill="#85888f" textLength="36.1" lengthAdjust="spacingAndGlyphs">VOLUME</text>
<path d="M53.6 354.6h4.6l-2.300 2.700z" fill="#8e9199"/>
<text x="66.3" y="358.8" font-size="8.8" fill="#85888f" textLength="75.4" lengthAdjust="spacingAndGlyphs">VOLUME:600.5093</text>
<text x="148.0" y="358.8" font-size="8.8" fill="#4a4c52" textLength="91.3" lengthAdjust="spacingAndGlyphs" stroke="#4a4c52" stroke-width="0.2">预估成交量:1,651.1999</text>
<text x="244.2" y="358.8" font-size="8.8" fill="#3cc9a5" textLength="69.0" lengthAdjust="spacingAndGlyphs">MA(5):6,810.4441</text>
<text x="319.8" y="358.8" font-size="8.8" fill="#f5a623" textLength="74.2" lengthAdjust="spacingAndGlyphs">MA(10):6,632.6526</text>
</svg>
</body></html>
